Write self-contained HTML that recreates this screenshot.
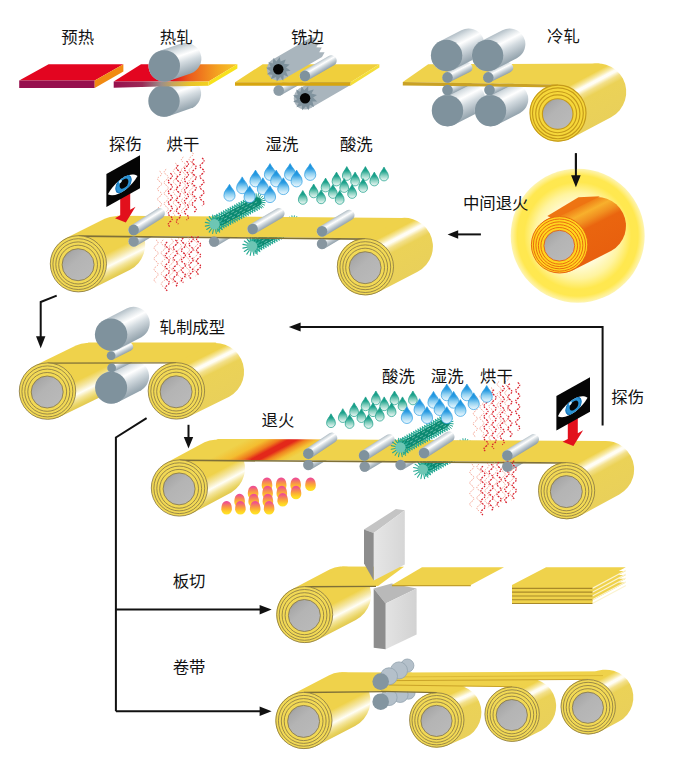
<!DOCTYPE html><html><head><meta charset="utf-8"><title>Copper strip production flow</title><style>html,body{margin:0;padding:0;background:#fff;font-family:"Liberation Sans",sans-serif}svg{display:block}</style></head><body><svg width="677" height="766" viewBox="0 0 677 766"><defs><linearGradient id="lg1" gradientUnits="userSpaceOnUse" x1="158.9" y1="86.1" x2="169.1" y2="115.9"><stop offset="0" stop-color="#b3bfc7"/><stop offset="0.16" stop-color="#d9e0e4"/><stop offset="0.36" stop-color="#ffffff"/><stop offset="0.58" stop-color="#d3dbe0"/><stop offset="0.82" stop-color="#aebac2"/><stop offset="1" stop-color="#93a3ad"/></linearGradient><linearGradient id="lg2" gradientUnits="userSpaceOnUse" x1="141" y1="0" x2="237" y2="0"><stop offset="0" stop-color="#e30520"/><stop offset="0.3" stop-color="#e30520"/><stop offset="0.5" stop-color="#ec5a1c"/><stop offset="0.8" stop-color="#f4a321"/><stop offset="1" stop-color="#f6c82a"/></linearGradient><linearGradient id="lg3" gradientUnits="userSpaceOnUse" x1="113.7" y1="0" x2="208.6" y2="0"><stop offset="0" stop-color="#96104e"/><stop offset="0.3" stop-color="#9a2a55"/><stop offset="0.5" stop-color="#9b8f8a"/><stop offset="0.62" stop-color="#c6a45a"/><stop offset="0.8" stop-color="#e8c32a"/><stop offset="1" stop-color="#f2d21f"/></linearGradient><linearGradient id="lg4" gradientUnits="userSpaceOnUse" x1="159.2" y1="51" x2="169.4" y2="80.8"><stop offset="0" stop-color="#b3bfc7"/><stop offset="0.16" stop-color="#d9e0e4"/><stop offset="0.36" stop-color="#ffffff"/><stop offset="0.58" stop-color="#d3dbe0"/><stop offset="0.82" stop-color="#aebac2"/><stop offset="1" stop-color="#93a3ad"/></linearGradient><linearGradient id="lg5" gradientUnits="userSpaceOnUse" x1="276.1" y1="85.9" x2="281.3" y2="95.1"><stop offset="0" stop-color="#b3bfc7"/><stop offset="0.16" stop-color="#d9e0e4"/><stop offset="0.36" stop-color="#ffffff"/><stop offset="0.58" stop-color="#d3dbe0"/><stop offset="0.82" stop-color="#aebac2"/><stop offset="1" stop-color="#93a3ad"/></linearGradient><linearGradient id="lg6" gradientUnits="userSpaceOnUse" x1="302.2" y1="71.3" x2="307.6" y2="80.5"><stop offset="0" stop-color="#b3bfc7"/><stop offset="0.16" stop-color="#d9e0e4"/><stop offset="0.36" stop-color="#ffffff"/><stop offset="0.58" stop-color="#d3dbe0"/><stop offset="0.82" stop-color="#aebac2"/><stop offset="1" stop-color="#93a3ad"/></linearGradient><linearGradient id="lg7" gradientUnits="userSpaceOnUse" x1="440.3" y1="96.6" x2="454.7" y2="124.6"><stop offset="0" stop-color="#b3bfc7"/><stop offset="0.16" stop-color="#d9e0e4"/><stop offset="0.36" stop-color="#ffffff"/><stop offset="0.58" stop-color="#d3dbe0"/><stop offset="0.82" stop-color="#aebac2"/><stop offset="1" stop-color="#93a3ad"/></linearGradient><linearGradient id="lg8" gradientUnits="userSpaceOnUse" x1="483.3" y1="96.6" x2="497.7" y2="124.6"><stop offset="0" stop-color="#b3bfc7"/><stop offset="0.16" stop-color="#d9e0e4"/><stop offset="0.36" stop-color="#ffffff"/><stop offset="0.58" stop-color="#d3dbe0"/><stop offset="0.82" stop-color="#aebac2"/><stop offset="1" stop-color="#93a3ad"/></linearGradient><linearGradient id="lg9" gradientUnits="userSpaceOnUse" x1="445.1" y1="85.6" x2="449.9" y2="95"><stop offset="0" stop-color="#b3bfc7"/><stop offset="0.16" stop-color="#d9e0e4"/><stop offset="0.36" stop-color="#ffffff"/><stop offset="0.58" stop-color="#d3dbe0"/><stop offset="0.82" stop-color="#aebac2"/><stop offset="1" stop-color="#93a3ad"/></linearGradient><linearGradient id="lg10" gradientUnits="userSpaceOnUse" x1="487.1" y1="85.6" x2="491.9" y2="95"><stop offset="0" stop-color="#b3bfc7"/><stop offset="0.16" stop-color="#d9e0e4"/><stop offset="0.36" stop-color="#ffffff"/><stop offset="0.58" stop-color="#d3dbe0"/><stop offset="0.82" stop-color="#aebac2"/><stop offset="1" stop-color="#93a3ad"/></linearGradient><linearGradient id="lg11" gradientUnits="userSpaceOnUse" x1="544.6" y1="87.9" x2="571.4" y2="138.3"><stop offset="0" stop-color="#efd24b"/><stop offset="0.17" stop-color="#efd24b"/><stop offset="0.25" stop-color="#f8eaa6"/><stop offset="0.3" stop-color="#fffdf4"/><stop offset="0.335" stop-color="#fffdf4"/><stop offset="0.41" stop-color="#f3e08a"/><stop offset="0.5" stop-color="#ebd257"/><stop offset="1" stop-color="#e9d05a"/></linearGradient><linearGradient id="lg12" gradientUnits="userSpaceOnUse" x1="402" y1="0" x2="560" y2="0"><stop offset="0" stop-color="#f0d24c"/><stop offset="1" stop-color="#efd24b"/></linearGradient><linearGradient id="lg13" gradientUnits="userSpaceOnUse" x1="445.1" y1="72.7" x2="449.9" y2="82.1"><stop offset="0" stop-color="#b3bfc7"/><stop offset="0.16" stop-color="#d9e0e4"/><stop offset="0.36" stop-color="#ffffff"/><stop offset="0.58" stop-color="#d3dbe0"/><stop offset="0.82" stop-color="#aebac2"/><stop offset="1" stop-color="#93a3ad"/></linearGradient><linearGradient id="lg14" gradientUnits="userSpaceOnUse" x1="485.9" y1="72.7" x2="490.7" y2="82.1"><stop offset="0" stop-color="#b3bfc7"/><stop offset="0.16" stop-color="#d9e0e4"/><stop offset="0.36" stop-color="#ffffff"/><stop offset="0.58" stop-color="#d3dbe0"/><stop offset="0.82" stop-color="#aebac2"/><stop offset="1" stop-color="#93a3ad"/></linearGradient><linearGradient id="lg15" gradientUnits="userSpaceOnUse" x1="439.4" y1="41.5" x2="453.8" y2="69.5"><stop offset="0" stop-color="#b3bfc7"/><stop offset="0.16" stop-color="#d9e0e4"/><stop offset="0.36" stop-color="#ffffff"/><stop offset="0.58" stop-color="#d3dbe0"/><stop offset="0.82" stop-color="#aebac2"/><stop offset="1" stop-color="#93a3ad"/></linearGradient><linearGradient id="lg16" gradientUnits="userSpaceOnUse" x1="480.4" y1="41.5" x2="494.8" y2="69.5"><stop offset="0" stop-color="#b3bfc7"/><stop offset="0.16" stop-color="#d9e0e4"/><stop offset="0.36" stop-color="#ffffff"/><stop offset="0.58" stop-color="#d3dbe0"/><stop offset="0.82" stop-color="#aebac2"/><stop offset="1" stop-color="#93a3ad"/></linearGradient><linearGradient id="coreg" x1="0.1" y1="0.05" x2="0.9" y2="0.95"><stop offset="0" stop-color="#8f8f8f"/><stop offset="0.16" stop-color="#a9a9a9"/><stop offset="0.4" stop-color="#b4b4b4"/><stop offset="1" stop-color="#bababa"/></linearGradient><linearGradient id="lg17" gradientUnits="userSpaceOnUse" x1="65.7" y1="238.3" x2="91.1" y2="289.3"><stop offset="0" stop-color="#efd24b"/><stop offset="0.56" stop-color="#efd24b"/><stop offset="0.68" stop-color="#f5e7a6"/><stop offset="0.775" stop-color="#fffef6"/><stop offset="0.86" stop-color="#f4e59a"/><stop offset="0.94" stop-color="#e9d462"/><stop offset="1" stop-color="#e2c84e"/></linearGradient><linearGradient id="lg18" gradientUnits="userSpaceOnUse" x1="352.2" y1="241.5" x2="378.6" y2="292.1"><stop offset="0" stop-color="#efd24b"/><stop offset="0.17" stop-color="#efd24b"/><stop offset="0.25" stop-color="#f8eaa6"/><stop offset="0.3" stop-color="#fffdf4"/><stop offset="0.335" stop-color="#fffdf4"/><stop offset="0.41" stop-color="#f3e08a"/><stop offset="0.5" stop-color="#ebd257"/><stop offset="1" stop-color="#e9d05a"/></linearGradient><linearGradient id="lg19" gradientUnits="userSpaceOnUse" x1="130.9" y1="236.9" x2="136.3" y2="245.9"><stop offset="0" stop-color="#b3bfc7"/><stop offset="0.16" stop-color="#d9e0e4"/><stop offset="0.36" stop-color="#ffffff"/><stop offset="0.58" stop-color="#d3dbe0"/><stop offset="0.82" stop-color="#aebac2"/><stop offset="1" stop-color="#93a3ad"/></linearGradient><linearGradient id="lg20" gradientUnits="userSpaceOnUse" x1="211.4" y1="237.1" x2="216.8" y2="246.1"><stop offset="0" stop-color="#b3bfc7"/><stop offset="0.16" stop-color="#d9e0e4"/><stop offset="0.36" stop-color="#ffffff"/><stop offset="0.58" stop-color="#d3dbe0"/><stop offset="0.82" stop-color="#aebac2"/><stop offset="1" stop-color="#93a3ad"/></linearGradient><linearGradient id="lg21" gradientUnits="userSpaceOnUse" x1="319.3" y1="239.4" x2="324.7" y2="248.4"><stop offset="0" stop-color="#b3bfc7"/><stop offset="0.16" stop-color="#d9e0e4"/><stop offset="0.36" stop-color="#ffffff"/><stop offset="0.58" stop-color="#d3dbe0"/><stop offset="0.82" stop-color="#aebac2"/><stop offset="1" stop-color="#93a3ad"/></linearGradient><linearGradient id="lg22" gradientUnits="userSpaceOnUse" x1="130.8" y1="225.4" x2="136.4" y2="234.4"><stop offset="0" stop-color="#b3bfc7"/><stop offset="0.16" stop-color="#d9e0e4"/><stop offset="0.36" stop-color="#ffffff"/><stop offset="0.58" stop-color="#d3dbe0"/><stop offset="0.82" stop-color="#aebac2"/><stop offset="1" stop-color="#93a3ad"/></linearGradient><linearGradient id="lg23" gradientUnits="userSpaceOnUse" x1="249.9" y1="224.4" x2="255.3" y2="233.6"><stop offset="0" stop-color="#b3bfc7"/><stop offset="0.16" stop-color="#d9e0e4"/><stop offset="0.36" stop-color="#ffffff"/><stop offset="0.58" stop-color="#d3dbe0"/><stop offset="0.82" stop-color="#aebac2"/><stop offset="1" stop-color="#93a3ad"/></linearGradient><linearGradient id="lg24" gradientUnits="userSpaceOnUse" x1="319.3" y1="226.7" x2="324.7" y2="235.9"><stop offset="0" stop-color="#b3bfc7"/><stop offset="0.16" stop-color="#d9e0e4"/><stop offset="0.36" stop-color="#ffffff"/><stop offset="0.58" stop-color="#d3dbe0"/><stop offset="0.82" stop-color="#aebac2"/><stop offset="1" stop-color="#93a3ad"/></linearGradient><linearGradient id="dg25" x1="0" y1="0" x2="0" y2="1"><stop offset="0" stop-color="#0f8bdb"/><stop offset="0.3" stop-color="#2a9ce2"/><stop offset="0.6" stop-color="#8fd0f1"/><stop offset="0.85" stop-color="#d0ecfa"/><stop offset="1" stop-color="#e8f6fd"/></linearGradient><linearGradient id="dg26" x1="0" y1="0" x2="0" y2="1"><stop offset="0" stop-color="#0a9681"/><stop offset="0.3" stop-color="#1fa38d"/><stop offset="0.6" stop-color="#86cfbf"/><stop offset="0.85" stop-color="#cdebe4"/><stop offset="1" stop-color="#e6f5f1"/></linearGradient><radialGradient id="glow" cx="0.5" cy="0.5" r="0.5"><stop offset="0" stop-color="#fffdf0"/><stop offset="0.45" stop-color="#fffbd8"/><stop offset="0.64" stop-color="#fff4a0"/><stop offset="0.8" stop-color="#ffe84f"/><stop offset="0.9" stop-color="#ffe850"/><stop offset="0.96" stop-color="#fff08c"/><stop offset="1" stop-color="#fdf4b2"/></radialGradient><linearGradient id="lg27" gradientUnits="userSpaceOnUse" x1="546.7" y1="219.2" x2="572.5" y2="270.4"><stop offset="0" stop-color="#ec6a10"/><stop offset="0.07" stop-color="#f08418"/><stop offset="0.2" stop-color="#f8b02c"/><stop offset="0.33" stop-color="#f19020"/><stop offset="0.46" stop-color="#ea650f"/><stop offset="1" stop-color="#e8600e"/></linearGradient><linearGradient id="lg28" gradientUnits="userSpaceOnUse" x1="35" y1="365.4" x2="60" y2="416.8"><stop offset="0" stop-color="#efd24b"/><stop offset="0.56" stop-color="#efd24b"/><stop offset="0.68" stop-color="#f5e7a6"/><stop offset="0.775" stop-color="#fffef6"/><stop offset="0.86" stop-color="#f4e59a"/><stop offset="0.94" stop-color="#e9d462"/><stop offset="1" stop-color="#e2c84e"/></linearGradient><linearGradient id="lg29" gradientUnits="userSpaceOnUse" x1="163.7" y1="365.3" x2="189.1" y2="416.5"><stop offset="0" stop-color="#efd24b"/><stop offset="0.17" stop-color="#efd24b"/><stop offset="0.25" stop-color="#f8eaa6"/><stop offset="0.3" stop-color="#fffdf4"/><stop offset="0.335" stop-color="#fffdf4"/><stop offset="0.41" stop-color="#f3e08a"/><stop offset="0.5" stop-color="#ebd257"/><stop offset="1" stop-color="#e9d05a"/></linearGradient><linearGradient id="lg30" gradientUnits="userSpaceOnUse" x1="103.8" y1="373.6" x2="118.4" y2="402"><stop offset="0" stop-color="#b3bfc7"/><stop offset="0.16" stop-color="#d9e0e4"/><stop offset="0.36" stop-color="#ffffff"/><stop offset="0.58" stop-color="#d3dbe0"/><stop offset="0.82" stop-color="#aebac2"/><stop offset="1" stop-color="#93a3ad"/></linearGradient><linearGradient id="lg31" gradientUnits="userSpaceOnUse" x1="109.6" y1="364" x2="113.6" y2="371.8"><stop offset="0" stop-color="#b3bfc7"/><stop offset="0.16" stop-color="#d9e0e4"/><stop offset="0.36" stop-color="#ffffff"/><stop offset="0.58" stop-color="#d3dbe0"/><stop offset="0.82" stop-color="#aebac2"/><stop offset="1" stop-color="#93a3ad"/></linearGradient><linearGradient id="lg32" gradientUnits="userSpaceOnUse" x1="109.1" y1="351.7" x2="113.1" y2="359.5"><stop offset="0" stop-color="#b3bfc7"/><stop offset="0.16" stop-color="#d9e0e4"/><stop offset="0.36" stop-color="#ffffff"/><stop offset="0.58" stop-color="#d3dbe0"/><stop offset="0.82" stop-color="#aebac2"/><stop offset="1" stop-color="#93a3ad"/></linearGradient><linearGradient id="lg33" gradientUnits="userSpaceOnUse" x1="103.7" y1="320.2" x2="118.5" y2="349"><stop offset="0" stop-color="#b3bfc7"/><stop offset="0.16" stop-color="#d9e0e4"/><stop offset="0.36" stop-color="#ffffff"/><stop offset="0.58" stop-color="#d3dbe0"/><stop offset="0.82" stop-color="#aebac2"/><stop offset="1" stop-color="#93a3ad"/></linearGradient><linearGradient id="lg34" gradientUnits="userSpaceOnUse" x1="166" y1="462.9" x2="192.8" y2="513.1"><stop offset="0" stop-color="#efd24b"/><stop offset="0.56" stop-color="#efd24b"/><stop offset="0.68" stop-color="#f5e7a6"/><stop offset="0.775" stop-color="#fffef6"/><stop offset="0.86" stop-color="#f4e59a"/><stop offset="0.94" stop-color="#e9d462"/><stop offset="1" stop-color="#e2c84e"/></linearGradient><linearGradient id="lg35" gradientUnits="userSpaceOnUse" x1="552.9" y1="465.7" x2="580.3" y2="515.7"><stop offset="0" stop-color="#efd24b"/><stop offset="0.17" stop-color="#efd24b"/><stop offset="0.25" stop-color="#f8eaa6"/><stop offset="0.3" stop-color="#fffdf4"/><stop offset="0.335" stop-color="#fffdf4"/><stop offset="0.41" stop-color="#f3e08a"/><stop offset="0.5" stop-color="#ebd257"/><stop offset="1" stop-color="#e9d05a"/></linearGradient><linearGradient id="lg36" gradientUnits="userSpaceOnUse" x1="305.6" y1="460.4" x2="311" y2="469.4"><stop offset="0" stop-color="#b3bfc7"/><stop offset="0.16" stop-color="#d9e0e4"/><stop offset="0.36" stop-color="#ffffff"/><stop offset="0.58" stop-color="#d3dbe0"/><stop offset="0.82" stop-color="#aebac2"/><stop offset="1" stop-color="#93a3ad"/></linearGradient><linearGradient id="lg37" gradientUnits="userSpaceOnUse" x1="362" y1="462.1" x2="367.4" y2="471.1"><stop offset="0" stop-color="#b3bfc7"/><stop offset="0.16" stop-color="#d9e0e4"/><stop offset="0.36" stop-color="#ffffff"/><stop offset="0.58" stop-color="#d3dbe0"/><stop offset="0.82" stop-color="#aebac2"/><stop offset="1" stop-color="#93a3ad"/></linearGradient><linearGradient id="lg38" gradientUnits="userSpaceOnUse" x1="397.9" y1="460.4" x2="403.3" y2="469.4"><stop offset="0" stop-color="#b3bfc7"/><stop offset="0.16" stop-color="#d9e0e4"/><stop offset="0.36" stop-color="#ffffff"/><stop offset="0.58" stop-color="#d3dbe0"/><stop offset="0.82" stop-color="#aebac2"/><stop offset="1" stop-color="#93a3ad"/></linearGradient><linearGradient id="lg39" gradientUnits="userSpaceOnUse" x1="504.6" y1="462.1" x2="510" y2="471.1"><stop offset="0" stop-color="#b3bfc7"/><stop offset="0.16" stop-color="#d9e0e4"/><stop offset="0.36" stop-color="#ffffff"/><stop offset="0.58" stop-color="#d3dbe0"/><stop offset="0.82" stop-color="#aebac2"/><stop offset="1" stop-color="#93a3ad"/></linearGradient><linearGradient id="lg40" gradientUnits="userSpaceOnUse" x1="229.5" y1="448.4" x2="247" y2="481.5"><stop offset="0" stop-color="#efd24b"/><stop offset="0.25" stop-color="#f4bd30"/><stop offset="0.42" stop-color="#ef7a1c"/><stop offset="0.53" stop-color="#e3281a"/><stop offset="0.64" stop-color="#e3281a"/><stop offset="0.75" stop-color="#f0821e"/><stop offset="0.89" stop-color="#f4c234"/><stop offset="1" stop-color="#efd24b"/></linearGradient><linearGradient id="lg41" gradientUnits="userSpaceOnUse" x1="305.4" y1="449.2" x2="311.2" y2="458"><stop offset="0" stop-color="#b3bfc7"/><stop offset="0.16" stop-color="#d9e0e4"/><stop offset="0.36" stop-color="#ffffff"/><stop offset="0.58" stop-color="#d3dbe0"/><stop offset="0.82" stop-color="#aebac2"/><stop offset="1" stop-color="#93a3ad"/></linearGradient><linearGradient id="lg42" gradientUnits="userSpaceOnUse" x1="361.3" y1="450.9" x2="366.9" y2="459.9"><stop offset="0" stop-color="#b3bfc7"/><stop offset="0.16" stop-color="#d9e0e4"/><stop offset="0.36" stop-color="#ffffff"/><stop offset="0.58" stop-color="#d3dbe0"/><stop offset="0.82" stop-color="#aebac2"/><stop offset="1" stop-color="#93a3ad"/></linearGradient><linearGradient id="lg43" gradientUnits="userSpaceOnUse" x1="421.1" y1="448.5" x2="426.9" y2="457.5"><stop offset="0" stop-color="#b3bfc7"/><stop offset="0.16" stop-color="#d9e0e4"/><stop offset="0.36" stop-color="#ffffff"/><stop offset="0.58" stop-color="#d3dbe0"/><stop offset="0.82" stop-color="#aebac2"/><stop offset="1" stop-color="#93a3ad"/></linearGradient><linearGradient id="lg44" gradientUnits="userSpaceOnUse" x1="504.5" y1="451" x2="510.1" y2="460"><stop offset="0" stop-color="#b3bfc7"/><stop offset="0.16" stop-color="#d9e0e4"/><stop offset="0.36" stop-color="#ffffff"/><stop offset="0.58" stop-color="#d3dbe0"/><stop offset="0.82" stop-color="#aebac2"/><stop offset="1" stop-color="#93a3ad"/></linearGradient><linearGradient id="dg45" x1="0" y1="0" x2="0" y2="1"><stop offset="0" stop-color="#0a9681"/><stop offset="0.3" stop-color="#1fa38d"/><stop offset="0.6" stop-color="#86cfbf"/><stop offset="0.85" stop-color="#cdebe4"/><stop offset="1" stop-color="#e6f5f1"/></linearGradient><linearGradient id="dg46" x1="0" y1="0" x2="0" y2="1"><stop offset="0" stop-color="#0f8bdb"/><stop offset="0.3" stop-color="#2a9ce2"/><stop offset="0.6" stop-color="#8fd0f1"/><stop offset="0.85" stop-color="#d0ecfa"/><stop offset="1" stop-color="#e8f6fd"/></linearGradient><linearGradient id="dg47" x1="0" y1="0" x2="0" y2="1"><stop offset="0" stop-color="#ee4a9a"/><stop offset="0.12" stop-color="#f0558a"/><stop offset="0.32" stop-color="#f5805a"/><stop offset="0.55" stop-color="#fbab36"/><stop offset="0.8" stop-color="#ffd524"/><stop offset="1" stop-color="#ffe62a"/></linearGradient><linearGradient id="lg48" gradientUnits="userSpaceOnUse" x1="291.6" y1="589.4" x2="317.8" y2="639.8"><stop offset="0" stop-color="#efd24b"/><stop offset="0.56" stop-color="#efd24b"/><stop offset="0.68" stop-color="#f5e7a6"/><stop offset="0.775" stop-color="#fffef6"/><stop offset="0.86" stop-color="#f4e59a"/><stop offset="0.94" stop-color="#e9d462"/><stop offset="1" stop-color="#e2c84e"/></linearGradient><linearGradient id="lg49" gradientUnits="userSpaceOnUse" x1="385.6" y1="0" x2="416.6" y2="0"><stop offset="0" stop-color="#e3e3e3"/><stop offset="1" stop-color="#d2d2d2"/></linearGradient><linearGradient id="lg50" gradientUnits="userSpaceOnUse" x1="373.7" y1="0" x2="404.8" y2="0"><stop offset="0" stop-color="#e6e6e6"/><stop offset="1" stop-color="#d6d6d6"/></linearGradient><linearGradient id="lg51" gradientUnits="userSpaceOnUse" x1="290.7" y1="695.2" x2="317.1" y2="745.8"><stop offset="0" stop-color="#efd24b"/><stop offset="0.56" stop-color="#efd24b"/><stop offset="0.68" stop-color="#f5e7a6"/><stop offset="0.775" stop-color="#fffef6"/><stop offset="0.86" stop-color="#f4e59a"/><stop offset="0.94" stop-color="#e9d462"/><stop offset="1" stop-color="#e2c84e"/></linearGradient><linearGradient id="lg52" gradientUnits="userSpaceOnUse" x1="575" y1="682.5" x2="601.4" y2="731.1"><stop offset="0" stop-color="#efd24b"/><stop offset="0.17" stop-color="#efd24b"/><stop offset="0.25" stop-color="#f8eaa6"/><stop offset="0.3" stop-color="#fffdf4"/><stop offset="0.335" stop-color="#fffdf4"/><stop offset="0.41" stop-color="#f3e08a"/><stop offset="0.5" stop-color="#ebd257"/><stop offset="1" stop-color="#e9d05a"/></linearGradient><linearGradient id="lg53" gradientUnits="userSpaceOnUse" x1="499.8" y1="689.5" x2="524.4" y2="738.9"><stop offset="0" stop-color="#efd24b"/><stop offset="0.17" stop-color="#efd24b"/><stop offset="0.25" stop-color="#f8eaa6"/><stop offset="0.3" stop-color="#fffdf4"/><stop offset="0.335" stop-color="#fffdf4"/><stop offset="0.41" stop-color="#f3e08a"/><stop offset="0.5" stop-color="#ebd257"/><stop offset="1" stop-color="#e9d05a"/></linearGradient><linearGradient id="lg54" gradientUnits="userSpaceOnUse" x1="425.7" y1="694.7" x2="447.9" y2="745.3"><stop offset="0" stop-color="#efd24b"/><stop offset="0.17" stop-color="#efd24b"/><stop offset="0.25" stop-color="#f8eaa6"/><stop offset="0.3" stop-color="#fffdf4"/><stop offset="0.335" stop-color="#fffdf4"/><stop offset="0.41" stop-color="#f3e08a"/><stop offset="0.5" stop-color="#ebd257"/><stop offset="1" stop-color="#e9d05a"/></linearGradient></defs><polygon points="19.2,80.5 48.6,64.2 123.4,64.2 94.7,80.5" fill="#e30520" /><polygon points="19.2,80.5 94.7,80.5 94.7,88.1 19.2,88.1" fill="#96104e" /><polygon points="94.7,80.5 123.4,64.2 123.4,71.5 94.7,88.1" fill="#f18a12" /><path d="M169.1 115.9L190.4 108.6A15.7 15.7 0 0 0 180.2 78.8L158.9 86.1A15.7 15.7 0 0 0 169.1 115.9Z" fill="url(#lg1)"/><circle cx="164" cy="101" r="15.7" fill="#7f929d"/><polygon points="113.7,81.4 141,64.3 237.4,64.3 208.6,81.4" fill="url(#lg2)" /><polygon points="113.7,81.4 208.6,81.4 208.6,85.8 160,86.4 113.7,87.8" fill="url(#lg3)" /><polygon points="208.6,81.4 237.4,64.3 237.4,68.6 208.6,85.8" fill="#f7e21d" /><path d="M169.4 80.8L190.7 73.5A15.7 15.7 0 0 0 180.5 43.7L159.2 51A15.7 15.7 0 0 0 169.4 80.8Z" fill="url(#lg4)"/><circle cx="164.3" cy="65.9" r="15.7" fill="#7f929d"/><polygon points="299.5,88.5 337.5,66.5 342.9,66.7 340.3,71.4 345.7,71.6 343.2,76.3 348.6,76.4 346,81.2 351.4,81.3 348.8,86.1 310.8,108.1" fill="#a9b5bd" /><circle cx="305.1" cy="98.3" r="11.3" fill="#a9b5bd"/><path d="M281.3 95.1L303.3 82.6A5.3 5.3 0 0 0 298.1 73.4L276.1 85.9A5.3 5.3 0 0 0 281.3 95.1Z" fill="url(#lg5)"/><polygon points="235,82.3 262.7,64.2 379.4,64.2 350.6,82.3" fill="#f0cf3c" /><polygon points="235,82.3 350.6,82.3 350.6,85.8 235,85.8" fill="#d6a50f" /><polygon points="350.6,82.3 379.4,64.2 379.4,67.6 350.6,85.8" fill="#f4de3a" /><circle cx="278.7" cy="90.5" r="5.3" fill="#8c9ca6"/><polygon points="317.1,101.4 312.4,101.5 314,107 309.8,104.7 308.5,110.2 306,106.3 302,110.3 301.9,105.6 296.4,107.2 298.7,103 293.2,101.7 297.1,99.2 293.1,95.2 297.8,95.1 296.2,89.6 300.4,91.9 301.7,86.4 304.2,90.3 308.2,86.3 308.3,91 313.8,89.4 311.5,93.6 317,94.9 313.1,97.4" fill="#7f929d" /><circle cx="305.1" cy="98.3" r="5.2" fill="#050505"/><polygon points="272.7,59.5 310.7,37.5 316.1,37.7 313.5,42.4 318.9,42.6 316.4,47.3 321.8,47.4 319.2,52.2 324.6,52.3 322,57.1 283.9,79.1" fill="#a9b5bd" /><circle cx="278.3" cy="69.3" r="11.3" fill="#a9b5bd"/><polygon points="290.6,70.8 286,71.5 288.2,76.7 283.8,75.1 283.2,80.7 280.2,77.1 276.8,81.6 276.1,77 270.9,79.2 272.5,74.8 266.9,74.2 270.5,71.2 266,67.8 270.6,67.1 268.4,61.9 272.8,63.5 273.4,57.9 276.4,61.5 279.8,57 280.5,61.6 285.7,59.4 284.1,63.8 289.7,64.4 286.1,67.4" fill="#7f929d" /><circle cx="278.3" cy="69.3" r="5.2" fill="#050505"/><path d="M307.6 80.5L334.1 65.2A5.3 5.3 0 0 0 328.7 56L302.2 71.3A5.3 5.3 0 0 0 307.6 80.5Z" fill="url(#lg6)"/><circle cx="304.9" cy="75.9" r="5.3" fill="#7f929d"/><path d="M454.7 124.6L476.7 113.3A15.7 15.7 0 0 0 462.3 85.3L440.3 96.6A15.7 15.7 0 0 0 454.7 124.6Z" fill="url(#lg7)"/><circle cx="447.5" cy="110.6" r="15.7" fill="#7f929d"/><path d="M497.7 124.6L519.7 113.3A15.7 15.7 0 0 0 505.3 85.3L483.3 96.6A15.7 15.7 0 0 0 497.7 124.6Z" fill="url(#lg8)"/><circle cx="490.5" cy="110.6" r="15.7" fill="#7f929d"/><path d="M449.9 95L469.9 85A5.3 5.3 0 0 0 465.1 75.6L445.1 85.6A5.3 5.3 0 0 0 449.9 95Z" fill="url(#lg9)"/><path d="M491.9 95L511.9 85A5.3 5.3 0 0 0 507.1 75.6L487.1 85.6A5.3 5.3 0 0 0 491.9 95Z" fill="url(#lg10)"/><path d="M571.4 138.3L611.1 117.2A28.5 28.5 0 0 0 584.3 66.8L544.6 87.9A28.5 28.5 0 0 0 571.4 138.3Z" fill="url(#lg11)"/><polygon points="402.8,82 428.2,64.3 600,63.4 558,84.6" fill="#efd24b" /><polygon points="402.8,82 558,84.6 558,87.4 402.8,85.4" fill="#c9a124" /><circle cx="447.5" cy="90" r="5.3" fill="#7f929d"/><circle cx="489.5" cy="90" r="5.3" fill="#7f929d"/><path d="M449.9 82.1L469.9 72.1A5.3 5.3 0 0 0 465.1 62.7L445.1 72.7A5.3 5.3 0 0 0 449.9 82.1Z" fill="url(#lg13)"/><circle cx="447.5" cy="77.4" r="5.3" fill="#7f929d"/><path d="M490.7 82.1L510.7 72.1A5.3 5.3 0 0 0 505.9 62.7L485.9 72.7A5.3 5.3 0 0 0 490.7 82.1Z" fill="url(#lg14)"/><circle cx="488.3" cy="77.4" r="5.3" fill="#7f929d"/><path d="M453.8 69.5L475.8 58.2A15.7 15.7 0 0 0 461.4 30.2L439.4 41.5A15.7 15.7 0 0 0 453.8 69.5Z" fill="url(#lg15)"/><circle cx="446.6" cy="55.5" r="15.7" fill="#7f929d"/><path d="M494.8 69.5L516.8 58.2A15.7 15.7 0 0 0 502.4 30.2L480.4 41.5A15.7 15.7 0 0 0 494.8 69.5Z" fill="url(#lg16)"/><circle cx="487.6" cy="55.5" r="15.7" fill="#7f929d"/><circle cx="558" cy="113.1" r="28" fill="#f6d73a" stroke="#c59a1a" stroke-width="1.15"/><circle cx="557.9" cy="113.3" r="25.4" fill="none" stroke="#c59a1a" stroke-width="1.15"/><circle cx="557.8" cy="113.6" r="22.1" fill="none" stroke="#c59a1a" stroke-width="1.15"/><circle cx="557.7" cy="113.8" r="18.9" fill="none" stroke="#c59a1a" stroke-width="1.15"/><circle cx="557.7" cy="114" r="15.3" fill="url(#coreg)" stroke="#c59a1a" stroke-width="1.15"/><path d="M91.1 289.3L130.1 269.8A28.5 28.5 0 0 0 104.7 218.8L65.7 238.3A28.5 28.5 0 0 0 91.1 289.3Z" fill="url(#lg17)"/><path d="M378.6 292.1L417.6 271.7A28.5 28.5 0 0 0 391.2 221.1L352.2 241.5A28.5 28.5 0 0 0 378.6 292.1Z" fill="url(#lg18)"/><path d="M136.3 245.9L162.3 230.4A5.2 5.2 0 0 0 156.9 221.4L130.9 236.9A5.2 5.2 0 0 0 136.3 245.9Z" fill="url(#lg19)"/><path d="M216.8 246.1L242.8 230.6A5.2 5.2 0 0 0 237.4 221.6L211.4 237.1A5.2 5.2 0 0 0 216.8 246.1Z" fill="url(#lg20)"/><path d="M324.7 248.4L350.7 232.9A5.2 5.2 0 0 0 345.3 223.9L319.3 239.4A5.2 5.2 0 0 0 324.7 248.4Z" fill="url(#lg21)"/><path d="M250.5 242.4L247.7 239.9M250.5 242.4L250 238.7M254.6 249.7L255.1 253.4M254.6 249.7L257.4 252.2M252.7 241.2L249.9 238.7M252.7 241.2L252.2 237.5M256.7 248.5L257.3 252.2M256.7 248.5L259.6 251M254.9 240L252.1 237.5M254.9 240L254.4 236.3M258.9 247.3L259.5 251M258.9 247.3L261.8 249.8M257.1 238.8L254.3 236.3M257.1 238.8L256.6 235.1M261.1 246.1L261.7 249.8M261.1 246.1L264 248.6M259.3 237.6L256.5 235.1M259.3 237.6L258.8 233.9M263.3 244.9L263.9 248.6M263.3 244.9L266.1 247.4M261.5 236.4L258.7 233.9M261.5 236.4L260.9 232.7M265.5 243.7L266.1 247.4M265.5 243.7L268.3 246.2M263.7 235.2L260.9 232.7M263.7 235.2L263.1 231.5M267.7 242.5L268.3 246.2M267.7 242.5L270.5 245M265.9 234L263 231.5M265.9 234L265.3 230.3M269.9 241.3L270.4 245M269.9 241.3L272.7 243.8M268.1 232.8L265.2 230.3M268.1 232.8L267.5 229.1M272.1 240.1L272.6 243.8M272.1 240.1L274.9 242.6M270.3 231.6L267.4 229.1M270.3 231.6L269.7 227.9M274.3 238.9L274.8 242.6M274.3 238.9L277.1 241.4M272.4 230.4L269.6 227.9M272.4 230.4L271.9 226.7M276.5 237.7L277 241.4M276.5 237.7L279.3 240.2M274.6 229.2L271.8 226.7M274.6 229.2L274.1 225.5M278.7 236.5L279.2 240.2M278.7 236.5L281.5 239M276.8 228L274 225.5M276.8 228L276.3 224.3M280.9 235.3L281.4 239M280.9 235.3L283.7 237.8M279 226.8L276.2 224.3M279 226.8L278.5 223.1M283.1 234.1L283.6 237.8M283.1 234.1L285.9 236.6M281.2 225.6L278.4 223.1M281.2 225.6L280.7 221.9M285.3 232.9L285.8 236.6M285.3 232.9L288.1 235.4M283.4 224.4L280.6 221.9M283.4 224.4L282.9 220.7M287.4 231.7L288 235.4M287.4 231.7L290.3 234.2M285.6 223.2L282.8 220.7M285.6 223.2L285.1 219.5M289.6 230.5L290.2 234.2M289.6 230.5L292.5 233M287.8 222L285 219.5M287.8 222L287.3 218.3M291.8 229.3L292.4 233M291.8 229.3L294.7 231.8M290 220.8L287.2 218.3M290 220.8L289.4 217.1M294 228.1L294.6 231.8M294 228.1L296.8 230.6" stroke="#25a993" stroke-width="1.05" fill="none" stroke-linecap="round"/><path d="M293 223.9L291.9 215.8M293 223.9L294.4 215.8M293 223.9L296.7 216.6M293 223.9L298.7 218M293 223.9L300.2 220M293 223.9L301 222.3M293 223.9L301.2 224.7M293 223.9L300.6 227.1M293 223.9L299.3 229.2" stroke="#25a993" stroke-width="1.0" fill="none" stroke-linecap="round"/><path d="M252.1 246.3L293 223.9" stroke="#0b8a72" stroke-width="9.2" stroke-linecap="round"/><path d="M255.2 241.6L291.8 221.6" stroke="#c9ece3" stroke-width="0.6" stroke-dasharray="3.2 2.6" stroke-dashoffset="-3.9000000000000004" fill="none" opacity="0.85"/><path d="M256.5 243.9L293 223.9" stroke="#c9ece3" stroke-width="0.6" stroke-dasharray="3.2 2.6" stroke-dashoffset="0.0" fill="none" opacity="0.85"/><path d="M257.7 246.2L294.2 226.2" stroke="#c9ece3" stroke-width="0.6" stroke-dasharray="3.2 2.6" stroke-dashoffset="3.9000000000000004" fill="none" opacity="0.85"/><path d="M252.1 246.3L261.3 248.2M252.1 246.3L259.9 251.6M252.1 246.3L257.3 254.1M252.1 246.3L253.9 255.5M252.1 246.3L250.2 255.5M252.1 246.3L246.8 254.1M252.1 246.3L244.3 251.5M252.1 246.3L242.9 248.1M252.1 246.3L242.9 244.4M252.1 246.3L244.3 241M252.1 246.3L246.9 238.5M252.1 246.3L250.3 237.1M252.1 246.3L254 237.1M252.1 246.3L257.4 238.5M252.1 246.3L259.9 241.1M252.1 246.3L261.3 244.5" stroke="#25a993" stroke-width="1.1" fill="none" stroke-linecap="round"/><circle cx="252.1" cy="246.3" r="5.2" fill="#6dc6b4"/><polygon points="78.4,235.3 117.4,215.8 404.4,217.9 365.4,238.3" fill="#efd24b" /><polygon points="78.4,235.3 365.4,238.3 365.4,239.9 78.4,236.9" fill="#7f7038" /><circle cx="133.6" cy="241.4" r="5.2" fill="#8796a0"/><circle cx="214.1" cy="241.6" r="5.2" fill="#8796a0"/><circle cx="322" cy="243.9" r="5.2" fill="#8796a0"/><path d="M156.1 240Q160.1 242.7 156.1 245.3Q152.1 248 156.1 250.6Q160.1 253.3 156.1 256Q152.1 258.6 156.1 261.3Q160.1 264 156.1 266.6Q152.1 269.3 156.1 271.9Q160.1 274.6 156.1 277.3Q152.1 279.9 156.1 282.6" fill="none" stroke="#ef7e66" stroke-width="0.85" stroke-dasharray="1.3 1.1" opacity="0.9"/><path d="M163.2 240Q159.2 242.6 163.2 245.2Q167.2 247.8 163.2 250.4Q159.2 252.9 163.2 255.5Q167.2 258.1 163.2 260.7Q159.2 263.3 163.2 265.9Q167.2 268.5 163.2 271.1Q159.2 273.7 163.2 276.2Q167.2 278.8 163.2 281.4Q159.2 284 163.2 286.6" fill="none" stroke="#ef7e66" stroke-width="0.85" stroke-dasharray="1.3 1.1" opacity="0.9"/><path d="M171.3 239Q175.3 241.5 171.3 244Q167.3 246.5 171.3 249Q175.3 251.5 171.3 254Q167.3 256.5 171.3 259Q175.3 261.5 171.3 264Q167.3 266.5 171.3 269Q175.3 271.5 171.3 274Q167.3 276.5 171.3 279Q175.3 281.5 171.3 284" fill="none" stroke="#ef7e66" stroke-width="0.85" stroke-dasharray="1.3 1.1" opacity="0.9"/><path d="M179.4 238Q175.4 240.8 179.4 243.5Q183.4 246.2 179.4 249Q175.4 251.8 179.4 254.5Q183.4 257.2 179.4 260Q175.4 262.8 179.4 265.5Q183.4 268.2 179.4 271Q175.4 273.8 179.4 276.5Q183.4 279.2 179.4 282" fill="none" stroke="#ef7e66" stroke-width="0.85" stroke-dasharray="1.3 1.1" opacity="0.9"/><path d="M187.5 237Q191.5 239.6 187.5 242.2Q183.5 244.9 187.5 247.5Q191.5 250.1 187.5 252.8Q183.5 255.4 187.5 258Q191.5 260.6 187.5 263.2Q183.5 265.9 187.5 268.5Q191.5 271.1 187.5 273.8Q183.5 276.4 187.5 279" fill="none" stroke="#ef7e66" stroke-width="0.85" stroke-dasharray="1.3 1.1" opacity="0.9"/><path d="M195.6 236.5Q191.6 239 195.6 241.4Q199.6 243.9 195.6 246.4Q191.6 248.8 195.6 251.3Q199.6 253.8 195.6 256.2Q191.6 258.7 195.6 261.2Q199.6 263.7 195.6 266.1Q191.6 268.6 195.6 271.1Q199.6 273.5 195.6 276" fill="none" stroke="#ef7e66" stroke-width="0.85" stroke-dasharray="1.3 1.1" opacity="0.9"/><path d="M167.3 242Q163.3 244.7 167.3 247.4Q171.3 250.1 167.3 252.8Q163.3 255.5 167.3 258.2Q171.3 260.9 167.3 263.6Q163.3 266.4 167.3 269.1Q171.3 271.8 167.3 274.5Q163.3 277.2 167.3 279.9Q171.3 282.6 167.3 285.3Q163.3 288 167.3 290.7" fill="none" stroke="#d9202c" stroke-width="1.25" stroke-dasharray="1.6 1.1" opacity="1"/><path d="M175.3 240Q179.3 242.6 175.3 245.2Q171.3 247.8 175.3 250.4Q179.3 252.9 175.3 255.5Q171.3 258.1 175.3 260.7Q179.3 263.3 175.3 265.9Q171.3 268.5 175.3 271.1Q179.3 273.7 175.3 276.2Q171.3 278.8 175.3 281.4Q179.3 284 175.3 286.6" fill="none" stroke="#d9202c" stroke-width="1.25" stroke-dasharray="1.6 1.1" opacity="1"/><path d="M183.4 238Q179.4 240.5 183.4 243Q187.4 245.4 183.4 247.9Q179.4 250.4 183.4 252.9Q187.4 255.3 183.4 257.8Q179.4 260.3 183.4 262.8Q187.4 265.3 183.4 267.7Q179.4 270.2 183.4 272.7Q187.4 275.2 183.4 277.6Q179.4 280.1 183.4 282.6" fill="none" stroke="#d9202c" stroke-width="1.25" stroke-dasharray="1.6 1.1" opacity="1"/><path d="M191.1 236.5Q195.1 239.1 191.1 241.8Q187.1 244.4 191.1 247Q195.1 249.6 191.1 252.2Q187.1 254.9 191.1 257.5Q195.1 260.1 191.1 262.8Q187.1 265.4 191.1 268Q195.1 270.6 191.1 273.2Q187.1 275.9 191.1 278.5" fill="none" stroke="#d9202c" stroke-width="1.25" stroke-dasharray="1.6 1.1" opacity="1"/><path d="M198.6 236.5Q194.6 239.2 198.6 241.9Q202.6 244.6 198.6 247.4Q194.6 250.1 198.6 252.8Q202.6 255.5 198.6 258.2Q194.6 260.9 198.6 263.6Q202.6 266.4 198.6 269.1Q194.6 271.8 198.6 274.5" fill="none" stroke="#d9202c" stroke-width="1.25" stroke-dasharray="1.6 1.1" opacity="1"/><path d="M159.6 171.3Q163.6 173.8 159.6 176.4Q155.6 178.9 159.6 181.4Q163.6 184 159.6 186.5Q155.6 189 159.6 191.6Q163.6 194.1 159.6 196.6Q155.6 199.1 159.6 201.7Q163.6 204.2 159.6 206.7Q155.6 209.3 159.6 211.8" fill="none" stroke="#ef7e66" stroke-width="0.85" stroke-dasharray="1.3 1.1" opacity="0.9"/><path d="M166.2 169.3Q162.2 172 166.2 174.6Q170.2 177.3 166.2 179.9Q162.2 182.6 166.2 185.2Q170.2 187.9 166.2 190.6Q162.2 193.2 166.2 195.9Q170.2 198.5 166.2 201.2Q162.2 203.8 166.2 206.5Q170.2 209.1 166.2 211.8" fill="none" stroke="#ef7e66" stroke-width="0.85" stroke-dasharray="1.3 1.1" opacity="0.9"/><path d="M175.3 163.2Q179.3 165.8 175.3 168.5Q171.3 171.1 175.3 173.7Q179.3 176.3 175.3 179Q171.3 181.6 175.3 184.2Q179.3 186.9 175.3 189.5Q171.3 192.1 175.3 194.8Q179.3 197.4 175.3 200Q171.3 202.7 175.3 205.3Q179.3 207.9 175.3 210.5Q171.3 213.2 175.3 215.8" fill="none" stroke="#ef7e66" stroke-width="0.85" stroke-dasharray="1.3 1.1" opacity="0.9"/><path d="M183.4 157.1Q179.4 159.7 183.4 162.3Q187.4 164.8 183.4 167.4Q179.4 170 183.4 172.6Q187.4 175.1 183.4 177.7Q179.4 180.3 183.4 182.9Q187.4 185.4 183.4 188Q179.4 190.6 183.4 193.2Q187.4 195.8 183.4 198.3Q179.4 200.9 183.4 203.5Q187.4 206.1 183.4 208.6Q179.4 211.2 183.4 213.8" fill="none" stroke="#ef7e66" stroke-width="0.85" stroke-dasharray="1.3 1.1" opacity="0.9"/><path d="M191.1 151.1Q195.1 153.8 191.1 156.6Q187.1 159.3 191.1 162Q195.1 164.7 191.1 167.5Q187.1 170.2 191.1 172.9Q195.1 175.7 191.1 178.4Q187.1 181.1 191.1 183.9Q195.1 186.6 191.1 189.3Q187.1 192 191.1 194.8Q195.1 197.5 191.1 200.2Q187.1 203 191.1 205.7" fill="none" stroke="#ef7e66" stroke-width="0.85" stroke-dasharray="1.3 1.1" opacity="0.9"/><path d="M170.3 173.3Q174.3 176 170.3 178.7Q166.3 181.4 170.3 184Q174.3 186.7 170.3 189.4Q166.3 192.1 170.3 194.8Q174.3 197.5 170.3 200.2Q166.3 202.8 170.3 205.5Q174.3 208.2 170.3 210.9Q166.3 213.6 170.3 216.3Q174.3 218.9 170.3 221.6Q166.3 224.3 170.3 227" fill="none" stroke="#d9202c" stroke-width="1.25" stroke-dasharray="1.6 1.1" opacity="1"/><path d="M178.4 165.2Q174.4 167.9 178.4 170.5Q182.4 173.2 178.4 175.9Q174.4 178.6 178.4 181.2Q182.4 183.9 178.4 186.6Q174.4 189.3 178.4 191.9Q182.4 194.6 178.4 197.3Q174.4 199.9 178.4 202.6Q182.4 205.3 178.4 208Q174.4 210.6 178.4 213.3Q182.4 216 178.4 218.7Q174.4 221.3 178.4 224" fill="none" stroke="#d9202c" stroke-width="1.25" stroke-dasharray="1.6 1.1" opacity="1"/><path d="M186.5 161.2Q190.5 163.9 186.5 166.5Q182.5 169.2 186.5 171.9Q190.5 174.6 186.5 177.2Q182.5 179.9 186.5 182.6Q190.5 185.3 186.5 187.9Q182.5 190.6 186.5 193.3Q190.5 195.9 186.5 198.6Q182.5 201.3 186.5 204Q190.5 206.6 186.5 209.3Q182.5 212 186.5 214.7Q190.5 217.3 186.5 220" fill="none" stroke="#d9202c" stroke-width="1.25" stroke-dasharray="1.6 1.1" opacity="1"/><path d="M194.2 159.2Q190.2 161.8 194.2 164.5Q198.2 167.1 194.2 169.8Q190.2 172.4 194.2 175Q198.2 177.7 194.2 180.3Q190.2 183 194.2 185.6Q198.2 188.2 194.2 190.9Q190.2 193.5 194.2 196.2Q198.2 198.8 194.2 201.4Q190.2 204.1 194.2 206.7Q198.2 209.4 194.2 212" fill="none" stroke="#d9202c" stroke-width="1.25" stroke-dasharray="1.6 1.1" opacity="1"/><path d="M202 158.1Q206 160.7 202 163.4Q198 166 202 168.7Q206 171.3 202 174Q198 176.6 202 179.3Q206 181.9 202 184.5Q198 187.2 202 189.8Q206 192.5 202 195.1Q198 197.8 202 200.4Q206 203.1 202 205.7" fill="none" stroke="#d9202c" stroke-width="1.25" stroke-dasharray="1.6 1.1" opacity="1"/><path d="M136.4 234.4L162.4 217.9A5.3 5.3 0 0 0 156.8 208.9L130.8 225.4A5.3 5.3 0 0 0 136.4 234.4Z" fill="url(#lg22)"/><circle cx="133.6" cy="229.9" r="5.3" fill="#7f929d"/><path d="M213 220.4L210.2 217.9M213 220.4L212.5 216.7M216.9 227.8L217.4 231.5M216.9 227.8L219.7 230.3M215.2 219.2L212.4 216.7M215.2 219.2L214.7 215.5M219.1 226.6L219.6 230.3M219.1 226.6L221.9 229.1M217.4 218L214.6 215.5M217.4 218L216.9 214.3M221.3 225.4L221.8 229.1M221.3 225.4L224.1 227.9M219.6 216.8L216.8 214.4M219.6 216.8L219.1 213.1M223.5 224.3L224 228M223.5 224.3L226.3 226.8M221.8 215.7L219 213.2M221.8 215.7L221.3 212M225.7 223.1L226.2 226.8M225.7 223.1L228.5 225.6M224 214.5L221.2 212M224 214.5L223.5 210.8M228 221.9L228.4 225.6M228 221.9L230.7 224.4M226.2 213.3L223.4 210.9M226.2 213.3L225.7 209.6M230.2 220.8L230.7 224.5M230.2 220.8L233 223.2M228.4 212.2L225.7 209.7M228.4 212.2L228 208.5M232.4 219.6L232.9 223.3M232.4 219.6L235.2 222.1M230.7 211L227.9 208.5M230.7 211L230.2 207.3M234.6 218.4L235.1 222.1M234.6 218.4L237.4 220.9M232.9 209.8L230.1 207.3M232.9 209.8L232.4 206.1M236.8 217.3L237.3 221M236.8 217.3L239.6 219.7M235.1 208.7L232.3 206.2M235.1 208.7L234.6 205M239 216.1L239.5 219.8M239 216.1L241.8 218.6M237.3 207.5L234.5 205M237.3 207.5L236.8 203.8M241.2 214.9L241.7 218.6M241.2 214.9L244 217.4M239.5 206.3L236.7 203.8M239.5 206.3L239 202.6M243.4 213.7L243.9 217.4M243.4 213.7L246.2 216.2M241.7 205.1L238.9 202.7M241.7 205.1L241.2 201.4M245.6 212.6L246.1 216.3M245.6 212.6L248.4 215.1M243.9 204L241.1 201.5M243.9 204L243.4 200.3M247.8 211.4L248.3 215.1M247.8 211.4L250.6 213.9M246.1 202.8L243.3 200.3M246.1 202.8L245.6 199.1M250 210.2L250.5 213.9M250 210.2L252.8 212.7M248.3 201.6L245.5 199.2M248.3 201.6L247.8 197.9M252.3 209.1L252.7 212.8M252.3 209.1L255 211.5M250.5 200.5L247.8 198M250.5 200.5L250 196.8M254.5 207.9L255 211.6M254.5 207.9L257.3 210.4M252.7 199.3L250 196.8M252.7 199.3L252.3 195.6M256.7 206.7L257.2 210.4M256.7 206.7L259.5 209.2M255 198.1L252.2 195.6M255 198.1L254.5 194.4M258.9 205.6L259.4 209.3M258.9 205.6L261.7 208" stroke="#25a993" stroke-width="1.05" fill="none" stroke-linecap="round"/><path d="M257 201.8L256.1 193.7M257 201.8L258.5 193.7M257 201.8L260.8 194.5M257 201.8L262.8 196M257 201.8L264.2 198M257 201.8L265.1 200.3M257 201.8L265.1 202.7M257 201.8L264.5 205.1M257 201.8L263.2 207.2" stroke="#25a993" stroke-width="1.0" fill="none" stroke-linecap="round"/><path d="M214.5 224.3L257 201.8" stroke="#0b8a72" stroke-width="9.2" stroke-linecap="round"/><path d="M217.7 219.7L255.8 199.5" stroke="#c9ece3" stroke-width="0.6" stroke-dasharray="3.2 2.6" stroke-dashoffset="-3.9000000000000004" fill="none" opacity="0.85"/><path d="M218.9 222L257 201.8" stroke="#c9ece3" stroke-width="0.6" stroke-dasharray="3.2 2.6" stroke-dashoffset="0.0" fill="none" opacity="0.85"/><path d="M220.1 224.3L258.2 204.1" stroke="#c9ece3" stroke-width="0.6" stroke-dasharray="3.2 2.6" stroke-dashoffset="3.9000000000000004" fill="none" opacity="0.85"/><path d="M214.5 224.3L223.7 226.2M214.5 224.3L222.3 229.6M214.5 224.3L219.7 232.1M214.5 224.3L216.3 233.5M214.5 224.3L212.6 233.5M214.5 224.3L209.2 232.1M214.5 224.3L206.7 229.5M214.5 224.3L205.3 226.1M214.5 224.3L205.3 222.4M214.5 224.3L206.7 219M214.5 224.3L209.3 216.5M214.5 224.3L212.7 215.1M214.5 224.3L216.4 215.1M214.5 224.3L219.8 216.5M214.5 224.3L222.3 219.1M214.5 224.3L223.7 222.5" stroke="#25a993" stroke-width="1.1" fill="none" stroke-linecap="round"/><circle cx="214.5" cy="224.3" r="5.2" fill="#6dc6b4"/><path d="M255.3 233.6L281.9 218A5.3 5.3 0 0 0 276.5 208.8L249.9 224.4A5.3 5.3 0 0 0 255.3 233.6Z" fill="url(#lg23)"/><circle cx="252.6" cy="229" r="5.3" fill="#7f929d"/><path d="M324.7 235.9L351.9 219.7A5.3 5.3 0 0 0 346.5 210.5L319.3 226.7A5.3 5.3 0 0 0 324.7 235.9Z" fill="url(#lg24)"/><circle cx="322" cy="231.3" r="5.3" fill="#7f929d"/><g fill="url(#dg25)" stroke="#2c9de2" stroke-width="0.7"><path transform="translate(270 174.8)" d="M0 -11.2C2.1 -6.7 5.6 -5 5.6 0A5.6 5.6 0 0 1 -5.6 0C-5.6 -5 -2.1 -6.7 0 -11.2Z"/><path transform="translate(290.1 174.8)" d="M0 -11.2C2.1 -6.7 5.6 -5 5.6 0A5.6 5.6 0 0 1 -5.6 0C-5.6 -5 -2.1 -6.7 0 -11.2Z"/><path transform="translate(310.2 174.8)" d="M0 -11.2C2.1 -6.7 5.6 -5 5.6 0A5.6 5.6 0 0 1 -5.6 0C-5.6 -5 -2.1 -6.7 0 -11.2Z"/><path transform="translate(255.5 181.3)" d="M0 -11.2C2.1 -6.7 5.6 -5 5.6 0A5.6 5.6 0 0 1 -5.6 0C-5.6 -5 -2.1 -6.7 0 -11.2Z"/><path transform="translate(276.2 181.3)" d="M0 -11.2C2.1 -6.7 5.6 -5 5.6 0A5.6 5.6 0 0 1 -5.6 0C-5.6 -5 -2.1 -6.7 0 -11.2Z"/><path transform="translate(296.6 181.3)" d="M0 -11.2C2.1 -6.7 5.6 -5 5.6 0A5.6 5.6 0 0 1 -5.6 0C-5.6 -5 -2.1 -6.7 0 -11.2Z"/><path transform="translate(242.2 188.1)" d="M0 -11.2C2.1 -6.7 5.6 -5 5.6 0A5.6 5.6 0 0 1 -5.6 0C-5.6 -5 -2.1 -6.7 0 -11.2Z"/><path transform="translate(262.9 189)" d="M0 -11.2C2.1 -6.7 5.6 -5 5.6 0A5.6 5.6 0 0 1 -5.6 0C-5.6 -5 -2.1 -6.7 0 -11.2Z"/><path transform="translate(283.3 189)" d="M0 -11.2C2.1 -6.7 5.6 -5 5.6 0A5.6 5.6 0 0 1 -5.6 0C-5.6 -5 -2.1 -6.7 0 -11.2Z"/><path transform="translate(229.5 195.5)" d="M0 -11.2C2.1 -6.7 5.6 -5 5.6 0A5.6 5.6 0 0 1 -5.6 0C-5.6 -5 -2.1 -6.7 0 -11.2Z"/><path transform="translate(249.6 197)" d="M0 -11.2C2.1 -6.7 5.6 -5 5.6 0A5.6 5.6 0 0 1 -5.6 0C-5.6 -5 -2.1 -6.7 0 -11.2Z"/><path transform="translate(270 197)" d="M0 -11.2C2.1 -6.7 5.6 -5 5.6 0A5.6 5.6 0 0 1 -5.6 0C-5.6 -5 -2.1 -6.7 0 -11.2Z"/></g><g fill="url(#dg26)" stroke="#1a9f89" stroke-width="0.7"><path transform="translate(346.8 176)" d="M0 -9.4C1.7 -5.6 4.4 -4 4.4 0A4.4 4.4 0 0 1 -4.4 0C-4.4 -4 -1.7 -5.6 0 -9.4Z"/><path transform="translate(365.4 176)" d="M0 -9.4C1.7 -5.6 4.4 -4 4.4 0A4.4 4.4 0 0 1 -4.4 0C-4.4 -4 -1.7 -5.6 0 -9.4Z"/><path transform="translate(384 176.5)" d="M0 -9.4C1.7 -5.6 4.4 -4 4.4 0A4.4 4.4 0 0 1 -4.4 0C-4.4 -4 -1.7 -5.6 0 -9.4Z"/><path transform="translate(336.5 181.5)" d="M0 -9.4C1.7 -5.6 4.4 -4 4.4 0A4.4 4.4 0 0 1 -4.4 0C-4.4 -4 -1.7 -5.6 0 -9.4Z"/><path transform="translate(355.1 181.5)" d="M0 -9.4C1.7 -5.6 4.4 -4 4.4 0A4.4 4.4 0 0 1 -4.4 0C-4.4 -4 -1.7 -5.6 0 -9.4Z"/><path transform="translate(374.3 181.5)" d="M0 -9.4C1.7 -5.6 4.4 -4 4.4 0A4.4 4.4 0 0 1 -4.4 0C-4.4 -4 -1.7 -5.6 0 -9.4Z"/><path transform="translate(325.6 187.5)" d="M0 -9.4C1.7 -5.6 4.4 -4 4.4 0A4.4 4.4 0 0 1 -4.4 0C-4.4 -4 -1.7 -5.6 0 -9.4Z"/><path transform="translate(344.2 188)" d="M0 -9.4C1.7 -5.6 4.4 -4 4.4 0A4.4 4.4 0 0 1 -4.4 0C-4.4 -4 -1.7 -5.6 0 -9.4Z"/><path transform="translate(363.1 188)" d="M0 -9.4C1.7 -5.6 4.4 -4 4.4 0A4.4 4.4 0 0 1 -4.4 0C-4.4 -4 -1.7 -5.6 0 -9.4Z"/><path transform="translate(313.7 193.4)" d="M0 -9.4C1.7 -5.6 4.4 -4 4.4 0A4.4 4.4 0 0 1 -4.4 0C-4.4 -4 -1.7 -5.6 0 -9.4Z"/><path transform="translate(332.9 194)" d="M0 -9.4C1.7 -5.6 4.4 -4 4.4 0A4.4 4.4 0 0 1 -4.4 0C-4.4 -4 -1.7 -5.6 0 -9.4Z"/><path transform="translate(352.1 194)" d="M0 -9.4C1.7 -5.6 4.4 -4 4.4 0A4.4 4.4 0 0 1 -4.4 0C-4.4 -4 -1.7 -5.6 0 -9.4Z"/><path transform="translate(321.1 199.3)" d="M0 -9.4C1.7 -5.6 4.4 -4 4.4 0A4.4 4.4 0 0 1 -4.4 0C-4.4 -4 -1.7 -5.6 0 -9.4Z"/><path transform="translate(302.8 199.9)" d="M0 -9.4C1.7 -5.6 4.4 -4 4.4 0A4.4 4.4 0 0 1 -4.4 0C-4.4 -4 -1.7 -5.6 0 -9.4Z"/><path transform="translate(339.7 199.9)" d="M0 -9.4C1.7 -5.6 4.4 -4 4.4 0A4.4 4.4 0 0 1 -4.4 0C-4.4 -4 -1.7 -5.6 0 -9.4Z"/></g><g transform="matrix(1 -0.56 0 1 106.4 174.1)"><polygon transform="translate(0 0.00)" points="13.8,28 23.8,28 23.8,49 29.1,49 19.4,59.3 8.6,49 13.8,49" fill="#e2101c"/><rect x="0" y="0" width="33.6" height="33" fill="#050505"/><path d="M1.5 21C8 12.5 22 8.5 31.1 19.2C24 28 9 29.5 1.5 21Z" fill="#fff"/><clipPath id="ec106"><path d="M1.5 21C8 12.5 22 8.5 31.1 19.2C24 28 9 29.5 1.5 21Z"/></clipPath><g clip-path="url(#ec106)"><circle cx="17.1" cy="19.6" r="8.1" fill="#2a93d5"/><circle cx="17.1" cy="19.6" r="7.6" fill="none" stroke="#1b78bd" stroke-width="1"/></g><circle cx="17.6" cy="19.4" r="4.4" fill="#050505"/><circle cx="13.9" cy="15.2" r="1.5" fill="#d9effa"/></g><circle cx="78.4" cy="263.8" r="28.1" fill="#f2d955" stroke="#8a7a45" stroke-width="0.85"/><circle cx="78.3" cy="264.1" r="25.4" fill="none" stroke="#8a7a45" stroke-width="0.85"/><circle cx="78.2" cy="264.3" r="22.4" fill="none" stroke="#8a7a45" stroke-width="0.85"/><circle cx="78.1" cy="264.6" r="19.4" fill="none" stroke="#8a7a45" stroke-width="0.85"/><circle cx="78.1" cy="264.7" r="16" fill="url(#coreg)" stroke="#8a7a45" stroke-width="0.85"/><circle cx="365.4" cy="266.8" r="28.1" fill="#f2d955" stroke="#8a7a45" stroke-width="0.85"/><circle cx="365.3" cy="267.1" r="25.4" fill="none" stroke="#8a7a45" stroke-width="0.85"/><circle cx="365.2" cy="267.3" r="22.4" fill="none" stroke="#8a7a45" stroke-width="0.85"/><circle cx="365.1" cy="267.6" r="19.4" fill="none" stroke="#8a7a45" stroke-width="0.85"/><circle cx="365.1" cy="267.7" r="16" fill="url(#coreg)" stroke="#8a7a45" stroke-width="0.85"/><polyline points="480.9,234.4 456.1,234.4" fill="none" stroke="#111" stroke-width="2.0" stroke-linejoin="miter"/><polygon points="447.6,234.4 458.2,230.2 458.2,238.7" fill="#111"/><polyline points="575.9,153.3 575.9,177.7" fill="none" stroke="#111" stroke-width="2.0" stroke-linejoin="miter"/><polygon points="575.9,187.3 571.1,175.3 580.7,175.3" fill="#111"/><circle cx="577.7" cy="235.7" r="67" fill="url(#glow)"/><polyline points="575.9,153.3 575.9,177.7" fill="none" stroke="#111" stroke-width="2.0" stroke-linejoin="miter"/><polygon points="575.9,187.3 571.1,175.3 580.7,175.3" fill="#111"/><path d="M572.5 270.4L611.4 250.8A28.7 28.7 0 0 0 585.6 199.6L546.7 219.2A28.7 28.7 0 0 0 572.5 270.4Z" fill="url(#lg27)"/><polygon points="547.3,216 578.5,197.2 600,196.2 559.6,216.3 553.5,218.9" fill="#ee7412" /><circle cx="559.6" cy="244.8" r="28.2" fill="#ffd51e" stroke="#e8640f" stroke-width="0.95"/><circle cx="559.5" cy="245.1" r="26.1" fill="none" stroke="#e8640f" stroke-width="0.95"/><circle cx="559.4" cy="245.3" r="23.5" fill="none" stroke="#e8640f" stroke-width="0.95"/><circle cx="559.3" cy="245.6" r="20.9" fill="none" stroke="#e8640f" stroke-width="0.95"/><circle cx="559.2" cy="245.8" r="18.3" fill="none" stroke="#e8640f" stroke-width="0.95"/><circle cx="559.3" cy="245.7" r="15.4" fill="url(#coreg)" stroke="#e8640f" stroke-width="0.95"/><polyline points="56.7,295.6 40.7,302 40.7,338.7" fill="none" stroke="#111" stroke-width="2.0" stroke-linejoin="miter"/><polygon points="40.7,348.3 36,336.3 45.4,336.3" fill="#111"/><path d="M60 416.8L101 396.8A28.6 28.6 0 0 0 76 345.4L35 365.4A28.6 28.6 0 0 0 60 416.8Z" fill="url(#lg28)"/><path d="M189.1 416.5L229.2 396.7A28.6 28.6 0 0 0 203.8 345.5L163.7 365.3A28.6 28.6 0 0 0 189.1 416.5Z" fill="url(#lg29)"/><path d="M118.4 402L141.3 390.2A16 16 0 0 0 126.7 361.8L103.8 373.6A16 16 0 0 0 118.4 402Z" fill="url(#lg30)"/><circle cx="111.1" cy="387.8" r="16" fill="#7f929d"/><path d="M113.6 371.8L131.6 362.8A4.4 4.4 0 0 0 127.6 355L109.6 364A4.4 4.4 0 0 0 113.6 371.8Z" fill="url(#lg31)"/><polygon points="47.5,362.5 88.5,342.5 216.5,342.5 176.4,362.3" fill="#efd24b" /><polygon points="47.5,362.5 176.4,362.3 176.4,363.6 47.5,363.8" fill="#7f7038" /><circle cx="111.6" cy="367.9" r="4.4" fill="#7f929d"/><path d="M113.1 359.5L131.1 350.5A4.4 4.4 0 0 0 127.1 342.7L109.1 351.7A4.4 4.4 0 0 0 113.1 359.5Z" fill="url(#lg32)"/><circle cx="111.1" cy="355.6" r="4.4" fill="#7f929d"/><path d="M118.5 349L141.4 337.2A16.2 16.2 0 0 0 126.6 308.4L103.7 320.2A16.2 16.2 0 0 0 118.5 349Z" fill="url(#lg33)"/><circle cx="111.1" cy="334.6" r="16.2" fill="#7f929d"/><circle cx="47.5" cy="391.1" r="28.2" fill="#f2d955" stroke="#8a7a45" stroke-width="0.85"/><circle cx="47.4" cy="391.4" r="25.5" fill="none" stroke="#8a7a45" stroke-width="0.85"/><circle cx="47.3" cy="391.6" r="22.5" fill="none" stroke="#8a7a45" stroke-width="0.85"/><circle cx="47.2" cy="391.9" r="19.4" fill="none" stroke="#8a7a45" stroke-width="0.85"/><circle cx="47.2" cy="392" r="16" fill="url(#coreg)" stroke="#8a7a45" stroke-width="0.85"/><circle cx="176.4" cy="390.9" r="28.2" fill="#f2d955" stroke="#8a7a45" stroke-width="0.85"/><circle cx="176.3" cy="391.1" r="25.5" fill="none" stroke="#8a7a45" stroke-width="0.85"/><circle cx="176.2" cy="391.4" r="22.5" fill="none" stroke="#8a7a45" stroke-width="0.85"/><circle cx="176.1" cy="391.6" r="19.4" fill="none" stroke="#8a7a45" stroke-width="0.85"/><circle cx="176.1" cy="391.8" r="16" fill="url(#coreg)" stroke="#8a7a45" stroke-width="0.85"/><polyline points="602.6,425.4 602.6,327 298.2,327" fill="none" stroke="#111" stroke-width="2.0" stroke-linejoin="miter"/><polygon points="288.8,327 300.6,322.6 300.6,331.4" fill="#111"/><polyline points="146.6,418.1 115.9,437.5 115.9,711.2" fill="none" stroke="#111" stroke-width="2"/><polyline points="115.9,711.2 262,711.2" fill="none" stroke="#111" stroke-width="2.0" stroke-linejoin="miter"/><polygon points="271.6,711.2 259.6,716 259.6,706.5" fill="#111"/><polyline points="115.9,609.6 262,609.6" fill="none" stroke="#111" stroke-width="2.0" stroke-linejoin="miter"/><polygon points="271.6,609.6 259.6,614.4 259.6,604.9" fill="#111"/><polyline points="188.5,424.8 188.5,439.2" fill="none" stroke="#111" stroke-width="2.0" stroke-linejoin="miter"/><polygon points="188.5,448.4 183.8,436.9 193.2,436.9" fill="#111"/><path d="M192.8 513.1L231.3 492.5A28.5 28.5 0 0 0 204.5 442.3L166 462.9A28.5 28.5 0 0 0 192.8 513.1Z" fill="url(#lg34)"/><path d="M580.3 515.7L619.3 494.4A28.5 28.5 0 0 0 591.9 444.4L552.9 465.7A28.5 28.5 0 0 0 580.3 515.7Z" fill="url(#lg35)"/><path d="M311 469.4L337 453.9A5.2 5.2 0 0 0 331.6 444.9L305.6 460.4A5.2 5.2 0 0 0 311 469.4Z" fill="url(#lg36)"/><path d="M367.4 471.1L393.4 455.6A5.2 5.2 0 0 0 388 446.6L362 462.1A5.2 5.2 0 0 0 367.4 471.1Z" fill="url(#lg37)"/><path d="M403.3 469.4L429.3 453.9A5.2 5.2 0 0 0 423.9 444.9L397.9 460.4A5.2 5.2 0 0 0 403.3 469.4Z" fill="url(#lg38)"/><path d="M510 471.1L536 455.6A5.2 5.2 0 0 0 530.6 446.6L504.6 462.1A5.2 5.2 0 0 0 510 471.1Z" fill="url(#lg39)"/><path d="M421.2 465.5L418.4 463M421.2 465.5L420.7 461.8M425.3 472.8L425.8 476.5M425.3 472.8L428.1 475.3M423.4 464.3L420.6 461.8M423.4 464.3L422.9 460.6M427.5 471.6L428 475.3M427.5 471.6L430.3 474.1M425.6 463.1L422.8 460.6M425.6 463.1L425.1 459.4M429.6 470.4L430.2 474.1M429.6 470.4L432.5 472.9M427.8 461.9L425 459.4M427.8 461.9L427.3 458.2M431.8 469.2L432.4 472.9M431.8 469.2L434.7 471.7M430 460.7L427.2 458.2M430 460.7L429.4 457M434 468L434.6 471.7M434 468L436.8 470.5M432.2 459.5L429.4 457M432.2 459.5L431.6 455.8M436.2 466.8L436.8 470.5M436.2 466.8L439 469.3M434.4 458.3L431.5 455.8M434.4 458.3L433.8 454.6M438.4 465.6L439 469.3M438.4 465.6L441.2 468.1M436.6 457.1L433.7 454.6M436.6 457.1L436 453.4M440.6 464.4L441.1 468.1M440.6 464.4L443.4 466.9M438.8 455.9L435.9 453.4M438.8 455.9L438.2 452.2M442.8 463.2L443.3 466.9M442.8 463.2L445.6 465.7M440.9 454.7L438.1 452.2M440.9 454.7L440.4 451M445 462L445.5 465.7M445 462L447.8 464.5M443.1 453.5L440.3 451M443.1 453.5L442.6 449.8M447.2 460.8L447.7 464.5M447.2 460.8L450 463.3M445.3 452.3L442.5 449.8M445.3 452.3L444.8 448.6M449.4 459.6L449.9 463.3M449.4 459.6L452.2 462.1M447.5 451L444.7 448.6M447.5 451L447 447.4M451.6 458.4L452.1 462.1M451.6 458.4L454.4 460.9M449.7 449.8L446.9 447.4M449.7 449.8L449.2 446.2M453.8 457.2L454.3 460.9M453.8 457.2L456.6 459.7M451.9 448.6L449.1 446.2M451.9 448.6L451.4 445M455.9 456L456.5 459.7M455.9 456L458.8 458.5M454.1 447.4L451.3 445M454.1 447.4L453.6 443.7M458.1 454.8L458.7 458.5M458.1 454.8L461 457.3M456.3 446.2L453.5 443.8M456.3 446.2L455.7 442.5M460.3 453.6L460.9 457.3M460.3 453.6L463.2 456M458.5 445L455.7 442.6M458.5 445L457.9 441.3M462.5 452.4L463.1 456.1M462.5 452.4L465.3 454.8M460.7 443.8L457.8 441.4M460.7 443.8L460.1 440.1M464.7 451.2L465.3 454.9M464.7 451.2L467.5 453.6" stroke="#25a993" stroke-width="1.05" fill="none" stroke-linecap="round"/><path d="M464 446.8L462.9 438.7M464 446.8L465.4 438.7M464 446.8L467.7 439.5M464 446.8L469.7 440.9M464 446.8L471.2 442.9M464 446.8L472 445.2M464 446.8L472.2 447.6M464 446.8L471.6 450M464 446.8L470.3 452.1" stroke="#25a993" stroke-width="1.0" fill="none" stroke-linecap="round"/><path d="M422.8 469.4L464 446.8" stroke="#0b8a72" stroke-width="9.2" stroke-linecap="round"/><path d="M425.9 464.7L462.7 444.5" stroke="#c9ece3" stroke-width="0.6" stroke-dasharray="3.2 2.6" stroke-dashoffset="-3.9000000000000004" fill="none" opacity="0.85"/><path d="M427.2 467L464 446.8" stroke="#c9ece3" stroke-width="0.6" stroke-dasharray="3.2 2.6" stroke-dashoffset="0.0" fill="none" opacity="0.85"/><path d="M428.4 469.3L465.3 449.1" stroke="#c9ece3" stroke-width="0.6" stroke-dasharray="3.2 2.6" stroke-dashoffset="3.9000000000000004" fill="none" opacity="0.85"/><path d="M422.8 469.4L432 471.3M422.8 469.4L430.6 474.7M422.8 469.4L428 477.2M422.8 469.4L424.6 478.6M422.8 469.4L420.9 478.6M422.8 469.4L417.5 477.2M422.8 469.4L415 474.6M422.8 469.4L413.6 471.2M422.8 469.4L413.6 467.5M422.8 469.4L415 464.1M422.8 469.4L417.6 461.6M422.8 469.4L421 460.2M422.8 469.4L424.7 460.2M422.8 469.4L428.1 461.6M422.8 469.4L430.6 464.2M422.8 469.4L432 467.6" stroke="#25a993" stroke-width="1.1" fill="none" stroke-linecap="round"/><circle cx="422.8" cy="469.4" r="5.2" fill="#6dc6b4"/><polygon points="179.4,459.5 217.9,438.9 605.6,440.9 566.6,462.2" fill="url(#lg40)" /><polygon points="179.4,459.5 566.6,462.2 566.6,463.8 179.4,461.1" fill="#7f7038" /><path d="M471.8 464.2Q475.8 466.9 471.8 469.5Q467.8 472.2 471.8 474.8Q475.8 477.5 471.8 480.2Q467.8 482.8 471.8 485.5Q475.8 488.2 471.8 490.8Q467.8 493.5 471.8 496.1Q475.8 498.8 471.8 501.5Q467.8 504.1 471.8 506.8" fill="none" stroke="#ef7e66" stroke-width="0.85" stroke-dasharray="1.3 1.1" opacity="0.9"/><path d="M478.9 464.2Q474.9 466.8 478.9 469.4Q482.9 472 478.9 474.6Q474.9 477.1 478.9 479.7Q482.9 482.3 478.9 484.9Q474.9 487.5 478.9 490.1Q482.9 492.7 478.9 495.3Q474.9 497.9 478.9 500.4Q482.9 503 478.9 505.6Q474.9 508.2 478.9 510.8" fill="none" stroke="#ef7e66" stroke-width="0.85" stroke-dasharray="1.3 1.1" opacity="0.9"/><path d="M487 463.2Q491 465.7 487 468.2Q483 470.7 487 473.2Q491 475.7 487 478.2Q483 480.7 487 483.2Q491 485.7 487 488.2Q483 490.7 487 493.2Q491 495.7 487 498.2Q483 500.7 487 503.2Q491 505.7 487 508.2" fill="none" stroke="#ef7e66" stroke-width="0.85" stroke-dasharray="1.3 1.1" opacity="0.9"/><path d="M495.1 462.2Q491.1 464.9 495.1 467.7Q499.1 470.4 495.1 473.2Q491.1 475.9 495.1 478.7Q499.1 481.4 495.1 484.2Q491.1 486.9 495.1 489.7Q499.1 492.4 495.1 495.2Q491.1 497.9 495.1 500.7Q499.1 503.4 495.1 506.2" fill="none" stroke="#ef7e66" stroke-width="0.85" stroke-dasharray="1.3 1.1" opacity="0.9"/><path d="M503.2 461.2Q507.2 463.8 503.2 466.4Q499.2 469.1 503.2 471.7Q507.2 474.3 503.2 476.9Q499.2 479.6 503.2 482.2Q507.2 484.8 503.2 487.4Q499.2 490.1 503.2 492.7Q507.2 495.3 503.2 497.9Q499.2 500.6 503.2 503.2" fill="none" stroke="#ef7e66" stroke-width="0.85" stroke-dasharray="1.3 1.1" opacity="0.9"/><path d="M511.3 460.7Q507.3 463.2 511.3 465.6Q515.3 468.1 511.3 470.6Q507.3 473 511.3 475.5Q515.3 478 511.3 480.4Q507.3 482.9 511.3 485.4Q515.3 487.9 511.3 490.3Q507.3 492.8 511.3 495.3Q515.3 497.7 511.3 500.2" fill="none" stroke="#ef7e66" stroke-width="0.85" stroke-dasharray="1.3 1.1" opacity="0.9"/><path d="M483 466.2Q479 468.9 483 471.6Q487 474.3 483 477Q479 479.7 483 482.4Q487 485.1 483 487.8Q479 490.6 483 493.3Q487 496 483 498.7Q479 501.4 483 504.1Q487 506.8 483 509.5Q479 512.2 483 514.9" fill="none" stroke="#d9202c" stroke-width="1.25" stroke-dasharray="1.6 1.1" opacity="1"/><path d="M491 464.2Q495 466.8 491 469.4Q487 472 491 474.6Q495 477.1 491 479.7Q487 482.3 491 484.9Q495 487.5 491 490.1Q487 492.7 491 495.3Q495 497.9 491 500.4Q487 503 491 505.6Q495 508.2 491 510.8" fill="none" stroke="#d9202c" stroke-width="1.25" stroke-dasharray="1.6 1.1" opacity="1"/><path d="M499.1 462.2Q495.1 464.7 499.1 467.2Q503.1 469.6 499.1 472.1Q495.1 474.6 499.1 477.1Q503.1 479.5 499.1 482Q495.1 484.5 499.1 487Q503.1 489.5 499.1 491.9Q495.1 494.4 499.1 496.9Q503.1 499.4 499.1 501.8Q495.1 504.3 499.1 506.8" fill="none" stroke="#d9202c" stroke-width="1.25" stroke-dasharray="1.6 1.1" opacity="1"/><path d="M506.8 460.7Q510.8 463.3 506.8 465.9Q502.8 468.6 506.8 471.2Q510.8 473.8 506.8 476.4Q502.8 479.1 506.8 481.7Q510.8 484.3 506.8 486.9Q502.8 489.6 506.8 492.2Q510.8 494.8 506.8 497.4Q502.8 500.1 506.8 502.7" fill="none" stroke="#d9202c" stroke-width="1.25" stroke-dasharray="1.6 1.1" opacity="1"/><path d="M514.3 460.7Q510.3 463.4 514.3 466.1Q518.3 468.8 514.3 471.6Q510.3 474.3 514.3 477Q518.3 479.7 514.3 482.4Q510.3 485.1 514.3 487.8Q518.3 490.6 514.3 493.3Q510.3 496 514.3 498.7" fill="none" stroke="#d9202c" stroke-width="1.25" stroke-dasharray="1.6 1.1" opacity="1"/><circle cx="308.3" cy="464.9" r="5.2" fill="#8796a0"/><circle cx="364.7" cy="466.6" r="5.2" fill="#8796a0"/><circle cx="400.6" cy="464.9" r="5.2" fill="#8796a0"/><circle cx="507.3" cy="466.6" r="5.2" fill="#8796a0"/><path d="M475.3 395.8Q479.3 398.3 475.3 400.9Q471.3 403.4 475.3 406Q479.3 408.5 475.3 411.1Q471.3 413.6 475.3 416.1Q479.3 418.7 475.3 421.2Q471.3 423.8 475.3 426.3Q479.3 428.9 475.3 431.4Q471.3 434 475.3 436.5" fill="none" stroke="#ef7e66" stroke-width="0.85" stroke-dasharray="1.3 1.1" opacity="0.9"/><path d="M481.9 393.8Q477.9 396.5 481.9 399.1Q485.9 401.8 481.9 404.5Q477.9 407.1 481.9 409.8Q485.9 412.5 481.9 415.1Q477.9 417.8 481.9 420.5Q485.9 423.2 481.9 425.8Q477.9 428.5 481.9 431.2Q485.9 433.8 481.9 436.5" fill="none" stroke="#ef7e66" stroke-width="0.85" stroke-dasharray="1.3 1.1" opacity="0.9"/><path d="M491 387.7Q495 390.3 491 393Q487 395.6 491 398.3Q495 400.9 491 403.5Q487 406.2 491 408.8Q495 411.5 491 414.1Q487 416.7 491 419.4Q495 422 491 424.7Q487 427.3 491 429.9Q495 432.6 491 435.2Q487 437.9 491 440.5" fill="none" stroke="#ef7e66" stroke-width="0.85" stroke-dasharray="1.3 1.1" opacity="0.9"/><path d="M499.1 381.6Q495.1 384.2 499.1 386.8Q503.1 389.4 499.1 391.9Q495.1 394.5 499.1 397.1Q503.1 399.7 499.1 402.3Q495.1 404.9 499.1 407.5Q503.1 410.1 499.1 412.6Q495.1 415.2 499.1 417.8Q503.1 420.4 499.1 423Q495.1 425.6 499.1 428.2Q503.1 430.7 499.1 433.3Q495.1 435.9 499.1 438.5" fill="none" stroke="#ef7e66" stroke-width="0.85" stroke-dasharray="1.3 1.1" opacity="0.9"/><path d="M506.8 375.6Q510.8 378.1 506.8 380.6Q502.8 383.1 506.8 385.6Q510.8 388.1 506.8 390.5Q502.8 393 506.8 395.5Q510.8 398 506.8 400.5Q502.8 403 506.8 405.5Q510.8 408 506.8 410.5Q502.8 413 506.8 415.5Q510.8 417.9 506.8 420.4Q502.8 422.9 506.8 425.4Q510.8 427.9 506.8 430.4" fill="none" stroke="#ef7e66" stroke-width="0.85" stroke-dasharray="1.3 1.1" opacity="0.9"/><path d="M486 397.8Q490 400.5 486 403.2Q482 405.9 486 408.6Q490 411.3 486 414Q482 416.7 486 419.4Q490 422.1 486 424.8Q482 427.4 486 430.1Q490 432.8 486 435.5Q482 438.2 486 440.9Q490 443.6 486 446.3Q482 449 486 451.7" fill="none" stroke="#d9202c" stroke-width="1.25" stroke-dasharray="1.6 1.1" opacity="1"/><path d="M494.1 389.7Q490.1 392.4 494.1 395.1Q498.1 397.7 494.1 400.4Q490.1 403.1 494.1 405.8Q498.1 408.5 494.1 411.2Q490.1 413.8 494.1 416.5Q498.1 419.2 494.1 421.9Q490.1 424.6 494.1 427.2Q498.1 429.9 494.1 432.6Q490.1 435.3 494.1 438Q498.1 440.7 494.1 443.3Q490.1 446 494.1 448.7" fill="none" stroke="#d9202c" stroke-width="1.25" stroke-dasharray="1.6 1.1" opacity="1"/><path d="M502.2 385.7Q506.2 388.4 502.2 391.1Q498.2 393.7 502.2 396.4Q506.2 399.1 502.2 401.8Q498.2 404.5 502.2 407.2Q506.2 409.8 502.2 412.5Q498.2 415.2 502.2 417.9Q506.2 420.6 502.2 423.2Q498.2 425.9 502.2 428.6Q506.2 431.3 502.2 434Q498.2 436.7 502.2 439.3Q506.2 442 502.2 444.7" fill="none" stroke="#d9202c" stroke-width="1.25" stroke-dasharray="1.6 1.1" opacity="1"/><path d="M509.9 383.7Q505.9 386.3 509.9 389Q513.9 391.6 509.9 394.3Q505.9 396.9 509.9 399.6Q513.9 402.2 509.9 404.9Q505.9 407.5 509.9 410.2Q513.9 412.8 509.9 415.5Q505.9 418.1 509.9 420.8Q513.9 423.4 509.9 426.1Q505.9 428.7 509.9 431.4Q513.9 434 509.9 436.7" fill="none" stroke="#d9202c" stroke-width="1.25" stroke-dasharray="1.6 1.1" opacity="1"/><path d="M517.7 382.6Q521.7 385.3 517.7 387.9Q513.7 390.6 517.7 393.2Q521.7 395.9 517.7 398.5Q513.7 401.2 517.7 403.8Q521.7 406.5 517.7 409.2Q513.7 411.8 517.7 414.5Q521.7 417.1 517.7 419.8Q513.7 422.4 517.7 425.1Q521.7 427.7 517.7 430.4" fill="none" stroke="#d9202c" stroke-width="1.25" stroke-dasharray="1.6 1.1" opacity="1"/><path d="M311.2 458L335.2 442A5.3 5.3 0 0 0 329.4 433.2L305.4 449.2A5.3 5.3 0 0 0 311.2 458Z" fill="url(#lg41)"/><circle cx="308.3" cy="453.6" r="5.3" fill="#7f929d"/><path d="M366.9 459.9L392.2 444A5.3 5.3 0 0 0 386.6 435L361.3 450.9A5.3 5.3 0 0 0 366.9 459.9Z" fill="url(#lg42)"/><circle cx="364.1" cy="455.4" r="5.3" fill="#7f929d"/><path d="M398.8 443.6L396 441.1M398.8 443.6L398.3 439.9M402.9 450.9L403.4 454.6M402.9 450.9L405.7 453.4M401 442.4L398.2 439.9M401 442.4L400.5 438.7M405.1 449.7L405.6 453.4M405.1 449.7L407.9 452.2M403.2 441.2L400.4 438.7M403.2 441.2L402.7 437.5M407.2 448.5L407.8 452.2M407.2 448.5L410.1 451M405.4 440L402.6 437.5M405.4 440L404.8 436.3M409.4 447.3L410 451M409.4 447.3L412.3 449.8M407.6 438.8L404.8 436.3M407.6 438.8L407 435.1M411.6 446.1L412.2 449.8M411.6 446.1L414.4 448.6M409.8 437.6L406.9 435.1M409.8 437.6L409.2 433.9M413.8 444.9L414.4 448.6M413.8 444.9L416.6 447.4M412 436.4L409.1 433.9M412 436.4L411.4 432.7M416 443.7L416.6 447.4M416 443.7L418.8 446.2M414.2 435.2L411.3 432.7M414.2 435.2L413.6 431.5M418.2 442.5L418.7 446.2M418.2 442.5L421 445M416.3 433.9L413.5 431.5M416.3 433.9L415.8 430.3M420.4 441.3L420.9 445M420.4 441.3L423.2 443.8M418.5 432.7L415.7 430.3M418.5 432.7L418 429.1M422.6 440.1L423.1 443.8M422.6 440.1L425.4 442.5M420.7 431.5L417.9 429.1M420.7 431.5L420.2 427.8M424.8 438.9L425.3 442.6M424.8 438.9L427.6 441.3M422.9 430.3L420.1 427.9M422.9 430.3L422.4 426.6M427 437.7L427.5 441.4M427 437.7L429.8 440.1M425.1 429.1L422.3 426.7M425.1 429.1L424.6 425.4M429.2 436.5L429.7 440.2M429.2 436.5L432 438.9M427.3 427.9L424.5 425.5M427.3 427.9L426.8 424.2M431.3 435.3L431.9 439M431.3 435.3L434.2 437.7M429.5 426.7L426.7 424.3M429.5 426.7L428.9 423M433.5 434.1L434.1 437.8M433.5 434.1L436.4 436.5M431.7 425.5L428.9 423.1M431.7 425.5L431.1 421.8M435.7 432.9L436.3 436.6M435.7 432.9L438.6 435.3M433.9 424.3L431.1 421.9M433.9 424.3L433.3 420.6M437.9 431.7L438.5 435.4M437.9 431.7L440.7 434.1M436.1 423.1L433.2 420.7M436.1 423.1L435.5 419.4M440.1 430.5L440.7 434.2M440.1 430.5L442.9 432.9M438.3 421.9L435.4 419.5M438.3 421.9L437.7 418.2M442.3 429.3L442.8 433M442.3 429.3L445.1 431.7M440.4 420.7L437.6 418.3M440.4 420.7L439.9 417M444.5 428.1L445 431.8M444.5 428.1L447.3 430.5M442.6 419.5L439.8 417.1M442.6 419.5L442.1 415.8M446.7 426.9L447.2 430.6M446.7 426.9L449.5 429.3" stroke="#25a993" stroke-width="1.05" fill="none" stroke-linecap="round"/><path d="M445 423L443.9 414.9M445 423L446.4 414.9M445 423L448.7 415.7M445 423L450.7 417.1M445 423L452.2 419.1M445 423L453 421.4M445 423L453.2 423.8M445 423L452.6 426.2M445 423L451.3 428.3" stroke="#25a993" stroke-width="1.0" fill="none" stroke-linecap="round"/><path d="M400.4 447.5L445 423" stroke="#0b8a72" stroke-width="9.2" stroke-linecap="round"/><path d="M403.5 442.8L443.7 420.7" stroke="#c9ece3" stroke-width="0.6" stroke-dasharray="3.2 2.6" stroke-dashoffset="-3.9000000000000004" fill="none" opacity="0.85"/><path d="M404.8 445.1L445 423" stroke="#c9ece3" stroke-width="0.6" stroke-dasharray="3.2 2.6" stroke-dashoffset="0.0" fill="none" opacity="0.85"/><path d="M406 447.4L446.3 425.3" stroke="#c9ece3" stroke-width="0.6" stroke-dasharray="3.2 2.6" stroke-dashoffset="3.9000000000000004" fill="none" opacity="0.85"/><path d="M400.4 447.5L409.6 449.4M400.4 447.5L408.2 452.8M400.4 447.5L405.6 455.3M400.4 447.5L402.2 456.7M400.4 447.5L398.5 456.7M400.4 447.5L395.1 455.3M400.4 447.5L392.6 452.7M400.4 447.5L391.2 449.3M400.4 447.5L391.2 445.6M400.4 447.5L392.6 442.2M400.4 447.5L395.2 439.7M400.4 447.5L398.6 438.3M400.4 447.5L402.3 438.3M400.4 447.5L405.7 439.7M400.4 447.5L408.2 442.3M400.4 447.5L409.6 445.7" stroke="#25a993" stroke-width="1.1" fill="none" stroke-linecap="round"/><circle cx="400.4" cy="447.5" r="5.2" fill="#6dc6b4"/><path d="M426.9 457.5L452.1 441.3A5.3 5.3 0 0 0 446.3 432.3L421.1 448.5A5.3 5.3 0 0 0 426.9 457.5Z" fill="url(#lg43)"/><circle cx="424" cy="453" r="5.3" fill="#7f929d"/><path d="M510.1 460L536.5 443.9A5.3 5.3 0 0 0 530.9 434.9L504.5 451A5.3 5.3 0 0 0 510.1 460Z" fill="url(#lg44)"/><circle cx="507.3" cy="455.5" r="5.3" fill="#7f929d"/><g fill="url(#dg45)" stroke="#1a9f89" stroke-width="0.7"><path transform="translate(375.9 400.4)" d="M0 -9.4C1.7 -5.6 4.4 -4 4.4 0A4.4 4.4 0 0 1 -4.4 0C-4.4 -4 -1.7 -5.6 0 -9.4Z"/><path transform="translate(394.5 400.4)" d="M0 -9.4C1.7 -5.6 4.4 -4 4.4 0A4.4 4.4 0 0 1 -4.4 0C-4.4 -4 -1.7 -5.6 0 -9.4Z"/><path transform="translate(412.9 400.4)" d="M0 -9.4C1.7 -5.6 4.4 -4 4.4 0A4.4 4.4 0 0 1 -4.4 0C-4.4 -4 -1.7 -5.6 0 -9.4Z"/><path transform="translate(365.6 406.3)" d="M0 -9.4C1.7 -5.6 4.4 -4 4.4 0A4.4 4.4 0 0 1 -4.4 0C-4.4 -4 -1.7 -5.6 0 -9.4Z"/><path transform="translate(384.2 406.3)" d="M0 -9.4C1.7 -5.6 4.4 -4 4.4 0A4.4 4.4 0 0 1 -4.4 0C-4.4 -4 -1.7 -5.6 0 -9.4Z"/><path transform="translate(402.5 406.3)" d="M0 -9.4C1.7 -5.6 4.4 -4 4.4 0A4.4 4.4 0 0 1 -4.4 0C-4.4 -4 -1.7 -5.6 0 -9.4Z"/><path transform="translate(354.1 412.2)" d="M0 -9.4C1.7 -5.6 4.4 -4 4.4 0A4.4 4.4 0 0 1 -4.4 0C-4.4 -4 -1.7 -5.6 0 -9.4Z"/><path transform="translate(373 412.2)" d="M0 -9.4C1.7 -5.6 4.4 -4 4.4 0A4.4 4.4 0 0 1 -4.4 0C-4.4 -4 -1.7 -5.6 0 -9.4Z"/><path transform="translate(391.6 412.2)" d="M0 -9.4C1.7 -5.6 4.4 -4 4.4 0A4.4 4.4 0 0 1 -4.4 0C-4.4 -4 -1.7 -5.6 0 -9.4Z"/><path transform="translate(379.8 416.7)" d="M0 -9.4C1.7 -5.6 4.4 -4 4.4 0A4.4 4.4 0 0 1 -4.4 0C-4.4 -4 -1.7 -5.6 0 -9.4Z"/><path transform="translate(342.8 418.1)" d="M0 -9.4C1.7 -5.6 4.4 -4 4.4 0A4.4 4.4 0 0 1 -4.4 0C-4.4 -4 -1.7 -5.6 0 -9.4Z"/><path transform="translate(361.4 418.1)" d="M0 -9.4C1.7 -5.6 4.4 -4 4.4 0A4.4 4.4 0 0 1 -4.4 0C-4.4 -4 -1.7 -5.6 0 -9.4Z"/><path transform="translate(331 423.2)" d="M0 -9.4C1.7 -5.6 4.4 -4 4.4 0A4.4 4.4 0 0 1 -4.4 0C-4.4 -4 -1.7 -5.6 0 -9.4Z"/><path transform="translate(349.6 424)" d="M0 -9.4C1.7 -5.6 4.4 -4 4.4 0A4.4 4.4 0 0 1 -4.4 0C-4.4 -4 -1.7 -5.6 0 -9.4Z"/><path transform="translate(368.5 424)" d="M0 -9.4C1.7 -5.6 4.4 -4 4.4 0A4.4 4.4 0 0 1 -4.4 0C-4.4 -4 -1.7 -5.6 0 -9.4Z"/></g><g fill="url(#dg46)" stroke="#2c9de2" stroke-width="0.7"><path transform="translate(446.8 395.2)" d="M0 -11.2C2.1 -6.7 5.6 -5 5.6 0A5.6 5.6 0 0 1 -5.6 0C-5.6 -5 -2.1 -6.7 0 -11.2Z"/><path transform="translate(466.9 395.2)" d="M0 -11.2C2.1 -6.7 5.6 -5 5.6 0A5.6 5.6 0 0 1 -5.6 0C-5.6 -5 -2.1 -6.7 0 -11.2Z"/><path transform="translate(486.7 396.7)" d="M0 -11.2C2.1 -6.7 5.6 -5 5.6 0A5.6 5.6 0 0 1 -5.6 0C-5.6 -5 -2.1 -6.7 0 -11.2Z"/><path transform="translate(433.5 402.6)" d="M0 -11.2C2.1 -6.7 5.6 -5 5.6 0A5.6 5.6 0 0 1 -5.6 0C-5.6 -5 -2.1 -6.7 0 -11.2Z"/><path transform="translate(453.6 402.6)" d="M0 -11.2C2.1 -6.7 5.6 -5 5.6 0A5.6 5.6 0 0 1 -5.6 0C-5.6 -5 -2.1 -6.7 0 -11.2Z"/><path transform="translate(473.7 404)" d="M0 -11.2C2.1 -6.7 5.6 -5 5.6 0A5.6 5.6 0 0 1 -5.6 0C-5.6 -5 -2.1 -6.7 0 -11.2Z"/><path transform="translate(419.6 409.9)" d="M0 -11.2C2.1 -6.7 5.6 -5 5.6 0A5.6 5.6 0 0 1 -5.6 0C-5.6 -5 -2.1 -6.7 0 -11.2Z"/><path transform="translate(439.7 409.9)" d="M0 -11.2C2.1 -6.7 5.6 -5 5.6 0A5.6 5.6 0 0 1 -5.6 0C-5.6 -5 -2.1 -6.7 0 -11.2Z"/><path transform="translate(460.4 410.8)" d="M0 -11.2C2.1 -6.7 5.6 -5 5.6 0A5.6 5.6 0 0 1 -5.6 0C-5.6 -5 -2.1 -6.7 0 -11.2Z"/><path transform="translate(406.9 417.9)" d="M0 -11.2C2.1 -6.7 5.6 -5 5.6 0A5.6 5.6 0 0 1 -5.6 0C-5.6 -5 -2.1 -6.7 0 -11.2Z"/><path transform="translate(427 417.9)" d="M0 -11.2C2.1 -6.7 5.6 -5 5.6 0A5.6 5.6 0 0 1 -5.6 0C-5.6 -5 -2.1 -6.7 0 -11.2Z"/><path transform="translate(446.8 417.9)" d="M0 -11.2C2.1 -6.7 5.6 -5 5.6 0A5.6 5.6 0 0 1 -5.6 0C-5.6 -5 -2.1 -6.7 0 -11.2Z"/></g><g fill="url(#dg47)" stroke="none" stroke-width="0.7"><path transform="translate(267 485.7)" d="M0 -8.2C3.8 -8.2 5.3 -4 5.3 0A5.3 5.3 0 0 1 -5.3 0C-5.3 -4 -3.8 -8.2 0 -8.2Z"/><path transform="translate(281.2 485.7)" d="M0 -8.2C3.8 -8.2 5.3 -4 5.3 0A5.3 5.3 0 0 1 -5.3 0C-5.3 -4 -3.8 -8.2 0 -8.2Z"/><path transform="translate(295.7 485.7)" d="M0 -8.2C3.8 -8.2 5.3 -4 5.3 0A5.3 5.3 0 0 1 -5.3 0C-5.3 -4 -3.8 -8.2 0 -8.2Z"/><path transform="translate(310.5 485.7)" d="M0 -8.2C3.8 -8.2 5.3 -4 5.3 0A5.3 5.3 0 0 1 -5.3 0C-5.3 -4 -3.8 -8.2 0 -8.2Z"/><path transform="translate(253.1 493.9)" d="M0 -8.2C3.8 -8.2 5.3 -4 5.3 0A5.3 5.3 0 0 1 -5.3 0C-5.3 -4 -3.8 -8.2 0 -8.2Z"/><path transform="translate(267.6 493.9)" d="M0 -8.2C3.8 -8.2 5.3 -4 5.3 0A5.3 5.3 0 0 1 -5.3 0C-5.3 -4 -3.8 -8.2 0 -8.2Z"/><path transform="translate(281.8 493.9)" d="M0 -8.2C3.8 -8.2 5.3 -4 5.3 0A5.3 5.3 0 0 1 -5.3 0C-5.3 -4 -3.8 -8.2 0 -8.2Z"/><path transform="translate(296 493.9)" d="M0 -8.2C3.8 -8.2 5.3 -4 5.3 0A5.3 5.3 0 0 1 -5.3 0C-5.3 -4 -3.8 -8.2 0 -8.2Z"/><path transform="translate(282.7 501.3)" d="M0 -8.2C3.8 -8.2 5.3 -4 5.3 0A5.3 5.3 0 0 1 -5.3 0C-5.3 -4 -3.8 -8.2 0 -8.2Z"/><path transform="translate(239.6 501.9)" d="M0 -8.2C3.8 -8.2 5.3 -4 5.3 0A5.3 5.3 0 0 1 -5.3 0C-5.3 -4 -3.8 -8.2 0 -8.2Z"/><path transform="translate(253.7 501.9)" d="M0 -8.2C3.8 -8.2 5.3 -4 5.3 0A5.3 5.3 0 0 1 -5.3 0C-5.3 -4 -3.8 -8.2 0 -8.2Z"/><path transform="translate(267.9 501.9)" d="M0 -8.2C3.8 -8.2 5.3 -4 5.3 0A5.3 5.3 0 0 1 -5.3 0C-5.3 -4 -3.8 -8.2 0 -8.2Z"/><path transform="translate(226.6 509.3)" d="M0 -8.2C3.8 -8.2 5.3 -4 5.3 0A5.3 5.3 0 0 1 -5.3 0C-5.3 -4 -3.8 -8.2 0 -8.2Z"/><path transform="translate(240.4 509.3)" d="M0 -8.2C3.8 -8.2 5.3 -4 5.3 0A5.3 5.3 0 0 1 -5.3 0C-5.3 -4 -3.8 -8.2 0 -8.2Z"/><path transform="translate(255.2 509.3)" d="M0 -8.2C3.8 -8.2 5.3 -4 5.3 0A5.3 5.3 0 0 1 -5.3 0C-5.3 -4 -3.8 -8.2 0 -8.2Z"/><path transform="translate(269.1 509.3)" d="M0 -8.2C3.8 -8.2 5.3 -4 5.3 0A5.3 5.3 0 0 1 -5.3 0C-5.3 -4 -3.8 -8.2 0 -8.2Z"/></g><g transform="matrix(1 -0.56 0 1 556.4 396)"><polygon transform="translate(-2.4 -1.34)" points="13.8,28 23.8,28 23.8,50.6 29.1,50.6 19.4,60.9 8.6,50.6 13.8,50.6" fill="#e2101c"/><rect x="0" y="0" width="33.6" height="34.5" fill="#050505"/><path d="M1.5 21C8 12.5 22 8.5 31.1 19.2C24 28 9 29.5 1.5 21Z" fill="#fff"/><clipPath id="ec556"><path d="M1.5 21C8 12.5 22 8.5 31.1 19.2C24 28 9 29.5 1.5 21Z"/></clipPath><g clip-path="url(#ec556)"><circle cx="17.1" cy="19.6" r="8.1" fill="#2a93d5"/><circle cx="17.1" cy="19.6" r="7.6" fill="none" stroke="#1b78bd" stroke-width="1"/></g><circle cx="17.6" cy="19.4" r="4.4" fill="#050505"/><circle cx="13.9" cy="15.2" r="1.5" fill="#d9effa"/></g><circle cx="179.4" cy="488" r="28.1" fill="#f2d955" stroke="#8a7a45" stroke-width="0.85"/><circle cx="179.3" cy="488.2" r="25.4" fill="none" stroke="#8a7a45" stroke-width="0.85"/><circle cx="179.2" cy="488.5" r="22.4" fill="none" stroke="#8a7a45" stroke-width="0.85"/><circle cx="179.1" cy="488.8" r="19.4" fill="none" stroke="#8a7a45" stroke-width="0.85"/><circle cx="179.1" cy="488.9" r="16" fill="url(#coreg)" stroke="#8a7a45" stroke-width="0.85"/><circle cx="566.6" cy="490.7" r="28.1" fill="#f2d955" stroke="#8a7a45" stroke-width="0.85"/><circle cx="566.5" cy="490.9" r="25.4" fill="none" stroke="#8a7a45" stroke-width="0.85"/><circle cx="566.4" cy="491.2" r="22.4" fill="none" stroke="#8a7a45" stroke-width="0.85"/><circle cx="566.3" cy="491.4" r="19.4" fill="none" stroke="#8a7a45" stroke-width="0.85"/><circle cx="566.3" cy="491.6" r="16" fill="url(#coreg)" stroke="#8a7a45" stroke-width="0.85"/><path d="M317.8 639.8L355.8 620A28.4 28.4 0 0 0 329.6 569.6L291.6 589.4A28.4 28.4 0 0 0 317.8 639.8Z" fill="url(#lg48)"/><polygon points="304.7,586.2 342.7,566.4 404,566.8 378,586" fill="#efd24b" /><polygon points="304.7,586 376,585.8 376,587.1 304.7,587.4" fill="#7f7038" /><polygon points="373.7,588.6 391.5,583.4 416.6,588.6 385.6,603.4" fill="#b9b9b9" /><polygon points="385.6,603.4 416.6,588.6 416.6,634.4 385.6,649.2" fill="url(#lg49)" /><polygon points="373.7,588.6 385.6,603.4 385.6,649.2 373.7,647.7" fill="#8d8d8d" /><polygon points="391.9,585.1 422,567.3 504,567.3 470.8,585.1" fill="#efd24b" /><polygon points="391.9,585.1 470.8,585.1 470.8,586.3 391.9,586.3" fill="#c2a02c" /><polygon points="364,529.5 395.9,508.9 404.8,510.3 373.7,533.1" fill="#c4c4c4" /><polygon points="373.7,533.1 404.8,510.3 404.8,564.4 373.7,580.4" fill="url(#lg50)" /><polygon points="364,529.5 373.7,533.1 373.7,580.4 364,563.5" fill="#8d8d8d" /><circle cx="304.7" cy="614.6" r="28" fill="#f2d955" stroke="#8a7a45" stroke-width="0.85"/><circle cx="304.6" cy="614.9" r="25.4" fill="none" stroke="#8a7a45" stroke-width="0.85"/><circle cx="304.5" cy="615.1" r="22.4" fill="none" stroke="#8a7a45" stroke-width="0.85"/><circle cx="304.4" cy="615.4" r="19.3" fill="none" stroke="#8a7a45" stroke-width="0.85"/><circle cx="304.4" cy="615.5" r="16" fill="url(#coreg)" stroke="#8a7a45" stroke-width="0.85"/><polygon points="512,600.3 546.1,582.5 625.8,582.5 592.6,600.3 592.6,604.1 512,604.1" fill="#efd24b" /><polygon points="512,603 592.6,603 592.6,604.1 512,604.1" fill="#a8892a" /><polygon points="592.6,602.8 625.8,585 625.8,586.3 592.6,604.1" fill="#fbf3cf" /><polygon points="512,596.5 546.1,578.7 625.8,578.7 592.6,596.5 592.6,600.3 512,600.3" fill="#efd24b" /><polygon points="512,599.2 592.6,599.2 592.6,600.3 512,600.3" fill="#a8892a" /><polygon points="592.6,599 625.8,581.2 625.8,582.5 592.6,600.3" fill="#fbf3cf" /><polygon points="512,592.7 546.1,574.9 625.8,574.9 592.6,592.7 592.6,596.5 512,596.5" fill="#efd24b" /><polygon points="512,595.4 592.6,595.4 592.6,596.5 512,596.5" fill="#a8892a" /><polygon points="592.6,595.2 625.8,577.4 625.8,578.7 592.6,596.5" fill="#fbf3cf" /><polygon points="512,588.9 546.1,571.1 625.8,571.1 592.6,588.9 592.6,592.7 512,592.7" fill="#efd24b" /><polygon points="512,591.6 592.6,591.6 592.6,592.7 512,592.7" fill="#a8892a" /><polygon points="592.6,591.4 625.8,573.6 625.8,574.9 592.6,592.7" fill="#fbf3cf" /><polygon points="512,585.1 546.1,567.3 625.8,567.3 592.6,585.1 592.6,588.9 512,588.9" fill="#efd24b" /><polygon points="512,587.8 592.6,587.8 592.6,588.9 512,588.9" fill="#a8892a" /><polygon points="592.6,587.6 625.8,569.8 625.8,571.1 592.6,588.9" fill="#fbf3cf" /><path d="M317.1 745.8L355.1 726A28.5 28.5 0 0 0 328.7 675.4L290.7 695.2A28.5 28.5 0 0 0 317.1 745.8Z" fill="url(#lg51)"/><path d="M601.4 731.1L618.9 721.6A27.6 27.6 0 0 0 592.5 673L575 682.5A27.6 27.6 0 0 0 601.4 731.1Z" fill="url(#lg52)"/><path d="M524.4 738.9L541.4 730.4A27.6 27.6 0 0 0 516.8 681L499.8 689.5A27.6 27.6 0 0 0 524.4 738.9Z" fill="url(#lg53)"/><path d="M447.9 745.3L464.9 737.8A27.6 27.6 0 0 0 442.7 687.2L425.7 694.7A27.6 27.6 0 0 0 447.9 745.3Z" fill="url(#lg54)"/><circle cx="408.5" cy="692.6" r="6.6" fill="#b4c0ca" stroke="#93a3ae" stroke-width="0.8"/><circle cx="400.2" cy="694.6" r="7.9" fill="#b4c0ca" stroke="#93a3ae" stroke-width="0.8"/><circle cx="389" cy="697.5" r="8.1" fill="#b4c0ca" stroke="#93a3ae" stroke-width="0.8"/><circle cx="380.7" cy="701.7" r="8.3" fill="#8395a0"/><polygon points="303.9,692 341.9,672.2 412,672.6 386,691.2" fill="#efd24b" /><polygon points="303.9,691.8 386,690.9 386,692.3 303.9,693.2" fill="#7f7038" /><polygon points="404,672.6 606,671.3 588.2,679.4 396,680.8" fill="#efd24b" /><polygon points="396,680.4 540,679.6 512.1,686.8 389,685.2" fill="#efd24b" /><polygon points="389,684.8 470,685.3 436.8,692.5 381,690.9" fill="#efd24b" /><path d="M400 676.9L603 675.6" stroke="#d9b534" stroke-width="0.9"/><path d="M396 680.6L588.2 679.4" stroke="#c9a227" stroke-width="1"/><path d="M389 685L512.1 686.7" stroke="#c9a227" stroke-width="1"/><path d="M381 691.3L436.8 692.7" stroke="#7f7038" stroke-width="1.3"/><circle cx="407.3" cy="665.6" r="6.6" fill="#b4c0ca" stroke="#93a3ae" stroke-width="0.8"/><circle cx="399" cy="670.4" r="8.5" fill="#b4c0ca" stroke="#93a3ae" stroke-width="0.8"/><circle cx="389" cy="676.3" r="8.5" fill="#b4c0ca" stroke="#93a3ae" stroke-width="0.8"/><circle cx="380.7" cy="681.6" r="8.3" fill="#8395a0"/><circle cx="436.8" cy="720" r="27.2" fill="#f2d955" stroke="#8a7a45" stroke-width="0.85"/><circle cx="436.7" cy="720.2" r="24.7" fill="none" stroke="#8a7a45" stroke-width="0.85"/><circle cx="436.6" cy="720.5" r="21.8" fill="none" stroke="#8a7a45" stroke-width="0.85"/><circle cx="436.5" cy="720.8" r="18.8" fill="none" stroke="#8a7a45" stroke-width="0.85"/><circle cx="436.5" cy="720.9" r="15.6" fill="url(#coreg)" stroke="#8a7a45" stroke-width="0.85"/><circle cx="512.1" cy="714.2" r="27.2" fill="#f2d955" stroke="#8a7a45" stroke-width="0.85"/><circle cx="512" cy="714.5" r="24.7" fill="none" stroke="#8a7a45" stroke-width="0.85"/><circle cx="511.9" cy="714.7" r="21.8" fill="none" stroke="#8a7a45" stroke-width="0.85"/><circle cx="511.8" cy="715" r="18.8" fill="none" stroke="#8a7a45" stroke-width="0.85"/><circle cx="511.8" cy="715.1" r="15.6" fill="url(#coreg)" stroke="#8a7a45" stroke-width="0.85"/><circle cx="588.2" cy="706.8" r="27.2" fill="#f2d955" stroke="#8a7a45" stroke-width="0.85"/><circle cx="588.1" cy="707" r="24.7" fill="none" stroke="#8a7a45" stroke-width="0.85"/><circle cx="588" cy="707.3" r="21.8" fill="none" stroke="#8a7a45" stroke-width="0.85"/><circle cx="587.9" cy="707.5" r="18.8" fill="none" stroke="#8a7a45" stroke-width="0.85"/><circle cx="587.9" cy="707.7" r="15.6" fill="url(#coreg)" stroke="#8a7a45" stroke-width="0.85"/><circle cx="303.9" cy="720.5" r="28.1" fill="#f2d955" stroke="#8a7a45" stroke-width="0.85"/><circle cx="303.8" cy="720.8" r="25.4" fill="none" stroke="#8a7a45" stroke-width="0.85"/><circle cx="303.7" cy="721" r="22.4" fill="none" stroke="#8a7a45" stroke-width="0.85"/><circle cx="303.6" cy="721.2" r="19.4" fill="none" stroke="#8a7a45" stroke-width="0.85"/><circle cx="303.6" cy="721.4" r="16" fill="url(#coreg)" stroke="#8a7a45" stroke-width="0.85"/><g fill="#111" font-size="16.4" font-family="&quot;Liberation Sans&quot;, &quot;Noto Sans CJK SC&quot;, sans-serif"><text x="61.3" y="42.9">预热</text><text x="159.8" y="42.9">热轧</text><text x="291" y="42.9">铣边</text><text x="547.1" y="42.4">冷轧</text><text x="109" y="150.4">探伤</text><text x="166.6" y="150.4">烘干</text><text x="265.5" y="150.4">湿洗</text><text x="339.9" y="150.4">酸洗</text><text x="462.9" y="209.4">中间退火</text><text x="159.6" y="332.9">轧制成型</text><text x="172.7" y="586.6">板切</text><text x="172.7" y="672.7">卷带</text><text x="382" y="382.4">酸洗</text><text x="430.8" y="382.4">湿洗</text><text x="480.1" y="382.4">烘干</text><text x="611.3" y="403.4">探伤</text><text x="261.6" y="426.2">退火</text></g></svg></body></html>
